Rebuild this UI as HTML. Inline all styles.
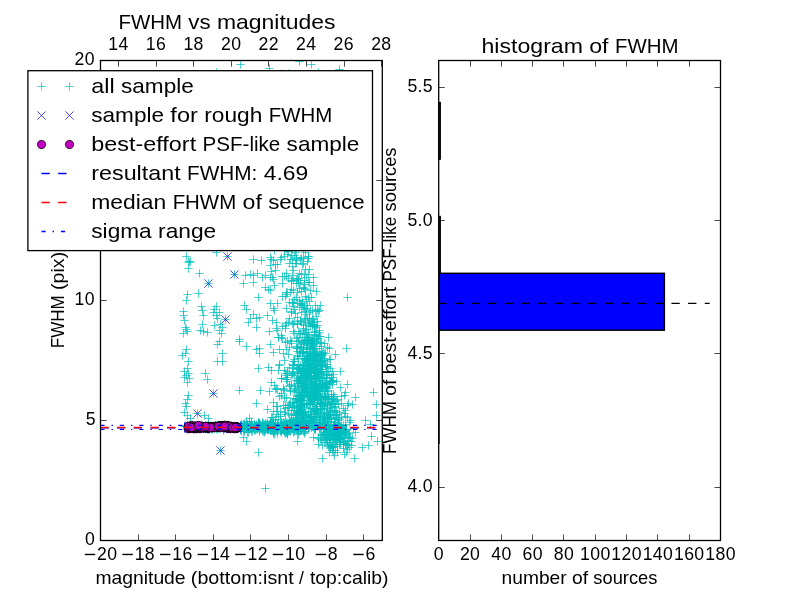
<!DOCTYPE html><html><head><meta charset="utf-8"><title>FWHM vs magnitudes</title><style>html,body{margin:0;padding:0;background:#fff;width:800px;height:600px;overflow:hidden}svg{display:block;will-change:transform}text{font-family:"Liberation Sans",sans-serif;white-space:pre}</style></head><body>
<svg width="800" height="600" viewBox="0 0 800 600">
<rect width="800" height="600" fill="#fff"/>
<defs><clipPath id="c1"><rect x="100" y="60" width="282" height="480"/></clipPath><clipPath id="c2"><rect x="438.2" y="60" width="281.8" height="480"/></clipPath></defs>
<g clip-path="url(#c1)">
<path d="M182.3 256.5h8.3M186.5 252.3v8.3M184.3 261.5h8.3M188.5 257.3v8.3M185.3 262.5h8.3M189.5 258.3v8.3M186.3 261.5h8.3M190.5 257.3v8.3M184.3 268.5h8.3M188.5 264.3v8.3M195.3 273.5h8.3M199.5 269.3v8.3M194.3 293.5h8.3M198.5 289.3v8.3M183.3 294.5h8.3M187.5 290.3v8.3M182.3 300.5h8.3M186.5 296.3v8.3M179.3 311.5h8.3M183.5 307.3v8.3M179.3 315.5h8.3M183.5 311.3v8.3M180.3 320.5h8.3M184.5 316.3v8.3M181.3 327.5h8.3M185.5 323.3v8.3M182.3 329.5h8.3M186.5 325.3v8.3M179.3 333.5h8.3M183.5 329.3v8.3M183.3 331.5h8.3M187.5 327.3v8.3M197.3 306.5h8.3M201.5 302.3v8.3M198.3 310.5h8.3M202.5 306.3v8.3M199.3 315.5h8.3M203.5 311.3v8.3M212.3 306.5h8.3M216.5 302.3v8.3M210.3 309.5h8.3M214.5 305.3v8.3M209.3 312.5h8.3M213.5 308.3v8.3M212.3 315.5h8.3M216.5 311.3v8.3M215.3 312.5h8.3M219.5 308.3v8.3M213.3 318.5h8.3M217.5 314.3v8.3M210.3 325.5h8.3M214.5 321.3v8.3M198.3 324.5h8.3M202.5 320.3v8.3M196.3 330.5h8.3M200.5 326.3v8.3M199.3 331.5h8.3M203.5 327.3v8.3M203.3 332.5h8.3M207.5 328.3v8.3M216.3 324.5h8.3M220.5 320.3v8.3M218.3 327.5h8.3M222.5 323.3v8.3M215.3 330.5h8.3M219.5 326.3v8.3M217.3 333.5h8.3M221.5 329.3v8.3M212.3 252.5h8.3M216.5 248.3v8.3M249.3 259.5h8.3M253.5 255.3v8.3M257.3 260.5h8.3M261.5 256.3v8.3M267.3 259.5h8.3M271.5 255.3v8.3M241.3 275.5h8.3M245.5 271.3v8.3M246.3 274.5h8.3M250.5 270.3v8.3M249.3 275.5h8.3M253.5 271.3v8.3M253.3 273.5h8.3M257.5 269.3v8.3M261.3 275.5h8.3M265.5 271.3v8.3M258.3 277.5h8.3M262.5 273.3v8.3M239.3 283.5h8.3M243.5 279.3v8.3M249.3 282.5h8.3M253.5 278.3v8.3M254.3 297.5h8.3M258.5 293.3v8.3M261.3 287.5h8.3M265.5 283.3v8.3M264.3 289.5h8.3M268.5 285.3v8.3M240.3 305.5h8.3M244.5 301.3v8.3M242.3 309.5h8.3M246.5 305.3v8.3M249.3 314.5h8.3M253.5 310.3v8.3M246.3 318.5h8.3M250.5 314.3v8.3M244.3 322.5h8.3M248.5 318.3v8.3M252.3 318.5h8.3M256.5 314.3v8.3M255.3 317.5h8.3M259.5 313.3v8.3M252.3 327.5h8.3M256.5 323.3v8.3M263.3 315.5h8.3M267.5 311.3v8.3M265.3 331.5h8.3M269.5 327.3v8.3M235.3 339.5h8.3M239.5 335.3v8.3M182.3 349.5h8.3M186.5 345.3v8.3M178.3 355.5h8.3M182.5 351.3v8.3M181.3 353.5h8.3M185.5 349.3v8.3M184.3 361.5h8.3M188.5 357.3v8.3M183.3 368.5h8.3M187.5 364.3v8.3M180.3 371.5h8.3M184.5 367.3v8.3M184.3 373.5h8.3M188.5 369.3v8.3M182.3 375.5h8.3M186.5 371.3v8.3M180.3 377.5h8.3M184.5 373.3v8.3M185.3 378.5h8.3M189.5 374.3v8.3M183.3 382.5h8.3M187.5 378.3v8.3M184.3 395.5h8.3M188.5 391.3v8.3M183.3 399.5h8.3M187.5 395.3v8.3M181.3 403.5h8.3M185.5 399.3v8.3M182.3 406.5h8.3M186.5 402.3v8.3M180.3 412.5h8.3M184.5 408.3v8.3M183.3 415.5h8.3M187.5 411.3v8.3M186.3 418.5h8.3M190.5 414.3v8.3M215.3 341.5h8.3M219.5 337.3v8.3M213.3 344.5h8.3M217.5 340.3v8.3M218.3 353.5h8.3M222.5 349.3v8.3M213.3 361.5h8.3M217.5 357.3v8.3M218.3 361.5h8.3M222.5 357.3v8.3M201.3 373.5h8.3M205.5 369.3v8.3M203.3 379.5h8.3M207.5 375.3v8.3M235.3 341.5h8.3M239.5 337.3v8.3M242.3 346.5h8.3M246.5 342.3v8.3M252.3 349.5h8.3M256.5 345.3v8.3M255.3 348.5h8.3M259.5 344.3v8.3M255.3 353.5h8.3M259.5 349.3v8.3M254.3 368.5h8.3M258.5 364.3v8.3M264.3 367.5h8.3M268.5 363.3v8.3M267.3 370.5h8.3M271.5 366.3v8.3M267.3 382.5h8.3M271.5 378.3v8.3M235.3 390.5h8.3M239.5 386.3v8.3M256.3 390.5h8.3M260.5 386.3v8.3M265.3 391.5h8.3M269.5 387.3v8.3M252.3 403.5h8.3M256.5 399.3v8.3M263.3 409.5h8.3M267.5 405.3v8.3M200.3 415.5h8.3M204.5 411.3v8.3M204.3 418.5h8.3M208.5 414.3v8.3M273.3 411.5h8.3M277.5 407.3v8.3M267.3 417.5h8.3M271.5 413.3v8.3M245.3 418.5h8.3M249.5 414.3v8.3M242.3 421.5h8.3M246.5 417.3v8.3M214.3 428.5h8.3M218.5 424.3v8.3M221.3 426.5h8.3M225.5 422.3v8.3M191.3 426.5h8.3M195.5 422.3v8.3M182.3 426.5h8.3M186.5 422.3v8.3M192.3 426.5h8.3M196.5 422.3v8.3M186.3 426.5h8.3M190.5 422.3v8.3M222.3 427.5h8.3M226.5 423.3v8.3M220.3 427.5h8.3M224.5 423.3v8.3M207.3 428.5h8.3M211.5 424.3v8.3M206.3 427.5h8.3M210.5 423.3v8.3M181.3 425.5h8.3M185.5 421.3v8.3M224.3 428.5h8.3M228.5 424.3v8.3M215.3 426.5h8.3M219.5 422.3v8.3M236.3 425.5h8.3M240.5 421.3v8.3M219.3 427.5h8.3M223.5 423.3v8.3M215.3 427.5h8.3M219.5 423.3v8.3M206.3 426.5h8.3M210.5 422.3v8.3M193.3 426.5h8.3M197.5 422.3v8.3M219.3 428.5h8.3M223.5 424.3v8.3M223.3 427.5h8.3M227.5 423.3v8.3M195.3 427.5h8.3M199.5 423.3v8.3M185.3 427.5h8.3M189.5 423.3v8.3M236.3 426.5h8.3M240.5 422.3v8.3M194.3 427.5h8.3M198.5 423.3v8.3M196.3 427.5h8.3M200.5 423.3v8.3M225.3 428.5h8.3M229.5 424.3v8.3M227.3 427.5h8.3M231.5 423.3v8.3M212.3 429.5h8.3M216.5 425.3v8.3M202.3 427.5h8.3M206.5 423.3v8.3M202.3 427.5h8.3M206.5 423.3v8.3M196.3 426.5h8.3M200.5 422.3v8.3M223.3 426.5h8.3M227.5 422.3v8.3M194.3 426.5h8.3M198.5 422.3v8.3M205.3 429.5h8.3M209.5 425.3v8.3M232.3 427.5h8.3M236.5 423.3v8.3M197.3 427.5h8.3M201.5 423.3v8.3M226.3 428.5h8.3M230.5 424.3v8.3M224.3 425.5h8.3M228.5 421.3v8.3M204.3 426.5h8.3M208.5 422.3v8.3M193.3 427.5h8.3M197.5 423.3v8.3M204.3 424.5h8.3M208.5 420.3v8.3M183.3 429.5h8.3M187.5 425.3v8.3M215.3 428.5h8.3M219.5 424.3v8.3M229.3 426.5h8.3M233.5 422.3v8.3M232.3 427.5h8.3M236.5 423.3v8.3M191.3 427.5h8.3M195.5 423.3v8.3M209.3 428.5h8.3M213.5 424.3v8.3M232.3 428.5h8.3M236.5 424.3v8.3M195.3 427.5h8.3M199.5 423.3v8.3M231.3 429.5h8.3M235.5 425.3v8.3M180.3 426.5h8.3M184.5 422.3v8.3M212.3 427.5h8.3M216.5 423.3v8.3M211.3 427.5h8.3M215.5 423.3v8.3M234.3 427.5h8.3M238.5 423.3v8.3M194.3 428.5h8.3M198.5 424.3v8.3M183.3 427.5h8.3M187.5 423.3v8.3M233.3 428.5h8.3M237.5 424.3v8.3M231.3 428.5h8.3M235.5 424.3v8.3M189.3 428.5h8.3M193.5 424.3v8.3M238.3 427.5h8.3M242.5 423.3v8.3M200.3 428.5h8.3M204.5 424.3v8.3M198.3 426.5h8.3M202.5 422.3v8.3M229.3 429.5h8.3M233.5 425.3v8.3M231.3 427.5h8.3M235.5 423.3v8.3M219.3 428.5h8.3M223.5 424.3v8.3M183.3 425.5h8.3M187.5 421.3v8.3M212.3 425.5h8.3M216.5 421.3v8.3M220.3 426.5h8.3M224.5 422.3v8.3M228.3 428.5h8.3M232.5 424.3v8.3M198.3 427.5h8.3M202.5 423.3v8.3M209.3 426.5h8.3M213.5 422.3v8.3M230.3 427.5h8.3M234.5 423.3v8.3M197.3 424.5h8.3M201.5 420.3v8.3M219.3 430.5h8.3M223.5 426.3v8.3M204.3 429.5h8.3M208.5 425.3v8.3M220.3 427.5h8.3M224.5 423.3v8.3M193.3 427.5h8.3M197.5 423.3v8.3M212.3 427.5h8.3M216.5 423.3v8.3M230.3 427.5h8.3M234.5 423.3v8.3M223.3 427.5h8.3M227.5 423.3v8.3M209.3 427.5h8.3M213.5 423.3v8.3M202.3 428.5h8.3M206.5 424.3v8.3M226.3 427.5h8.3M230.5 423.3v8.3M189.3 427.5h8.3M193.5 423.3v8.3M214.3 426.5h8.3M218.5 422.3v8.3M205.3 428.5h8.3M209.5 424.3v8.3M183.3 427.5h8.3M187.5 423.3v8.3M197.3 427.5h8.3M201.5 423.3v8.3M223.3 426.5h8.3M227.5 422.3v8.3M197.3 426.5h8.3M201.5 422.3v8.3M203.3 427.5h8.3M207.5 423.3v8.3M217.3 427.5h8.3M221.5 423.3v8.3M229.3 427.5h8.3M233.5 423.3v8.3M198.3 427.5h8.3M202.5 423.3v8.3M189.3 427.5h8.3M193.5 423.3v8.3M221.3 427.5h8.3M225.5 423.3v8.3M231.3 427.5h8.3M235.5 423.3v8.3M214.3 428.5h8.3M218.5 424.3v8.3M220.3 427.5h8.3M224.5 423.3v8.3M190.3 429.5h8.3M194.5 425.3v8.3M211.3 428.5h8.3M215.5 424.3v8.3M231.3 426.5h8.3M235.5 422.3v8.3M229.3 426.5h8.3M233.5 422.3v8.3M237.3 429.5h8.3M241.5 425.3v8.3M226.3 426.5h8.3M230.5 422.3v8.3M191.3 425.5h8.3M195.5 421.3v8.3M216.3 428.5h8.3M220.5 424.3v8.3M208.3 429.5h8.3M212.5 425.3v8.3M216.3 427.5h8.3M220.5 423.3v8.3M188.3 427.5h8.3M192.5 423.3v8.3M237.3 431.5h8.3M241.5 427.3v8.3M242.3 426.5h8.3M246.5 422.3v8.3M291.3 423.5h8.3M295.5 419.3v8.3M259.3 423.5h8.3M263.5 419.3v8.3M267.3 423.5h8.3M271.5 419.3v8.3M269.3 430.5h8.3M273.5 426.3v8.3M247.3 428.5h8.3M251.5 424.3v8.3M280.3 432.5h8.3M284.5 428.3v8.3M256.3 425.5h8.3M260.5 421.3v8.3M279.3 422.5h8.3M283.5 418.3v8.3M252.3 424.5h8.3M256.5 420.3v8.3M296.3 430.5h8.3M300.5 426.3v8.3M252.3 425.5h8.3M256.5 421.3v8.3M260.3 425.5h8.3M264.5 421.3v8.3M262.3 424.5h8.3M266.5 420.3v8.3M250.3 428.5h8.3M254.5 424.3v8.3M280.3 430.5h8.3M284.5 426.3v8.3M264.3 427.5h8.3M268.5 423.3v8.3M297.3 421.5h8.3M301.5 417.3v8.3M261.3 424.5h8.3M265.5 420.3v8.3M255.3 430.5h8.3M259.5 426.3v8.3M254.3 428.5h8.3M258.5 424.3v8.3M279.3 425.5h8.3M283.5 421.3v8.3M243.3 424.5h8.3M247.5 420.3v8.3M246.3 427.5h8.3M250.5 423.3v8.3M255.3 431.5h8.3M259.5 427.3v8.3M255.3 425.5h8.3M259.5 421.3v8.3M237.3 426.5h8.3M241.5 422.3v8.3M243.3 427.5h8.3M247.5 423.3v8.3M282.3 422.5h8.3M286.5 418.3v8.3M251.3 430.5h8.3M255.5 426.3v8.3M260.3 430.5h8.3M264.5 426.3v8.3M247.3 421.5h8.3M251.5 417.3v8.3M253.3 428.5h8.3M257.5 424.3v8.3M276.3 419.5h8.3M280.5 415.3v8.3M244.3 428.5h8.3M248.5 424.3v8.3M286.3 431.5h8.3M290.5 427.3v8.3M243.3 428.5h8.3M247.5 424.3v8.3M279.3 426.5h8.3M283.5 422.3v8.3M282.3 432.5h8.3M286.5 428.3v8.3M269.3 426.5h8.3M273.5 422.3v8.3M254.3 424.5h8.3M258.5 420.3v8.3M263.3 427.5h8.3M267.5 423.3v8.3M241.3 425.5h8.3M245.5 421.3v8.3M276.3 425.5h8.3M280.5 421.3v8.3M293.3 441.5h8.3M297.5 437.3v8.3M238.3 427.5h8.3M242.5 423.3v8.3M285.3 420.5h8.3M289.5 416.3v8.3M299.3 428.5h8.3M303.5 424.3v8.3M288.3 422.5h8.3M292.5 418.3v8.3M244.3 432.5h8.3M248.5 428.3v8.3M247.3 423.5h8.3M251.5 419.3v8.3M249.3 428.5h8.3M253.5 424.3v8.3M269.3 429.5h8.3M273.5 425.3v8.3M292.3 429.5h8.3M296.5 425.3v8.3M265.3 427.5h8.3M269.5 423.3v8.3M240.3 423.5h8.3M244.5 419.3v8.3M288.3 428.5h8.3M292.5 424.3v8.3M268.3 427.5h8.3M272.5 423.3v8.3M240.3 431.5h8.3M244.5 427.3v8.3M276.3 431.5h8.3M280.5 427.3v8.3M273.3 428.5h8.3M277.5 424.3v8.3M267.3 430.5h8.3M271.5 426.3v8.3M258.3 423.5h8.3M262.5 419.3v8.3M255.3 426.5h8.3M259.5 422.3v8.3M250.3 430.5h8.3M254.5 426.3v8.3M269.3 431.5h8.3M273.5 427.3v8.3M290.3 431.5h8.3M294.5 427.3v8.3M242.3 426.5h8.3M246.5 422.3v8.3M289.3 427.5h8.3M293.5 423.3v8.3M242.3 426.5h8.3M246.5 422.3v8.3M266.3 421.5h8.3M270.5 417.3v8.3M242.3 427.5h8.3M246.5 423.3v8.3M294.3 428.5h8.3M298.5 424.3v8.3M289.3 428.5h8.3M293.5 424.3v8.3M294.3 426.5h8.3M298.5 422.3v8.3M250.3 426.5h8.3M254.5 422.3v8.3M236.3 425.5h8.3M240.5 421.3v8.3M259.3 425.5h8.3M263.5 421.3v8.3M286.3 424.5h8.3M290.5 420.3v8.3M294.3 422.5h8.3M298.5 418.3v8.3M251.3 429.5h8.3M255.5 425.3v8.3M282.3 432.5h8.3M286.5 428.3v8.3M240.3 429.5h8.3M244.5 425.3v8.3M244.3 427.5h8.3M248.5 423.3v8.3M247.3 424.5h8.3M251.5 420.3v8.3M264.3 425.5h8.3M268.5 421.3v8.3M247.3 427.5h8.3M251.5 423.3v8.3M267.3 426.5h8.3M271.5 422.3v8.3M276.3 426.5h8.3M280.5 422.3v8.3M292.3 425.5h8.3M296.5 421.3v8.3M236.3 428.5h8.3M240.5 424.3v8.3M278.3 429.5h8.3M282.5 425.3v8.3M239.3 426.5h8.3M243.5 422.3v8.3M243.3 432.5h8.3M247.5 428.3v8.3M270.3 430.5h8.3M274.5 426.3v8.3M249.3 428.5h8.3M253.5 424.3v8.3M252.3 429.5h8.3M256.5 425.3v8.3M250.3 424.5h8.3M254.5 420.3v8.3M268.3 428.5h8.3M272.5 424.3v8.3M245.3 427.5h8.3M249.5 423.3v8.3M288.3 426.5h8.3M292.5 422.3v8.3M239.3 428.5h8.3M243.5 424.3v8.3M283.3 427.5h8.3M287.5 423.3v8.3M248.3 431.5h8.3M252.5 427.3v8.3M269.3 432.5h8.3M273.5 428.3v8.3M277.3 432.5h8.3M281.5 428.3v8.3M295.3 425.5h8.3M299.5 421.3v8.3M255.3 430.5h8.3M259.5 426.3v8.3M252.3 427.5h8.3M256.5 423.3v8.3M277.3 430.5h8.3M281.5 426.3v8.3M301.3 425.5h8.3M305.5 421.3v8.3M294.3 434.5h8.3M298.5 430.3v8.3M240.3 429.5h8.3M244.5 425.3v8.3M267.3 425.5h8.3M271.5 421.3v8.3M260.3 430.5h8.3M264.5 426.3v8.3M294.3 425.5h8.3M298.5 421.3v8.3M251.3 426.5h8.3M255.5 422.3v8.3M301.3 431.5h8.3M305.5 427.3v8.3M260.3 424.5h8.3M264.5 420.3v8.3M268.3 425.5h8.3M272.5 421.3v8.3M268.3 427.5h8.3M272.5 423.3v8.3M236.3 427.5h8.3M240.5 423.3v8.3M260.3 432.5h8.3M264.5 428.3v8.3M284.3 427.5h8.3M288.5 423.3v8.3M284.3 431.5h8.3M288.5 427.3v8.3M250.3 424.5h8.3M254.5 420.3v8.3M270.3 426.5h8.3M274.5 422.3v8.3M282.3 431.5h8.3M286.5 427.3v8.3M267.3 423.5h8.3M271.5 419.3v8.3M240.3 428.5h8.3M244.5 424.3v8.3M282.3 424.5h8.3M286.5 420.3v8.3M254.3 423.5h8.3M258.5 419.3v8.3M263.3 423.5h8.3M267.5 419.3v8.3M276.3 428.5h8.3M280.5 424.3v8.3M269.3 422.5h8.3M273.5 418.3v8.3M280.3 425.5h8.3M284.5 421.3v8.3M300.3 433.5h8.3M304.5 429.3v8.3M257.3 429.5h8.3M261.5 425.3v8.3M243.3 428.5h8.3M247.5 424.3v8.3M252.3 426.5h8.3M256.5 422.3v8.3M274.3 427.5h8.3M278.5 423.3v8.3M269.3 430.5h8.3M273.5 426.3v8.3M298.3 423.5h8.3M302.5 419.3v8.3M269.3 433.5h8.3M273.5 429.3v8.3M247.3 428.5h8.3M251.5 424.3v8.3M253.3 426.5h8.3M257.5 422.3v8.3M298.3 423.5h8.3M302.5 419.3v8.3M265.3 429.5h8.3M269.5 425.3v8.3M282.3 427.5h8.3M286.5 423.3v8.3M276.3 425.5h8.3M280.5 421.3v8.3M254.3 423.5h8.3M258.5 419.3v8.3M283.3 433.5h8.3M287.5 429.3v8.3M255.3 430.5h8.3M259.5 426.3v8.3M289.3 428.5h8.3M293.5 424.3v8.3M263.3 424.5h8.3M267.5 420.3v8.3M241.3 428.5h8.3M245.5 424.3v8.3M263.3 429.5h8.3M267.5 425.3v8.3M248.3 426.5h8.3M252.5 422.3v8.3M293.3 429.5h8.3M297.5 425.3v8.3M266.3 428.5h8.3M270.5 424.3v8.3M245.3 429.5h8.3M249.5 425.3v8.3M259.3 429.5h8.3M263.5 425.3v8.3M261.3 423.5h8.3M265.5 419.3v8.3M278.3 425.5h8.3M282.5 421.3v8.3M300.3 422.5h8.3M304.5 418.3v8.3M261.3 429.5h8.3M265.5 425.3v8.3M280.3 423.5h8.3M284.5 419.3v8.3M290.3 424.5h8.3M294.5 420.3v8.3M298.3 426.5h8.3M302.5 422.3v8.3M243.3 425.5h8.3M247.5 421.3v8.3M268.3 425.5h8.3M272.5 421.3v8.3M247.3 431.5h8.3M251.5 427.3v8.3M240.3 425.5h8.3M244.5 421.3v8.3M284.3 428.5h8.3M288.5 424.3v8.3M286.3 426.5h8.3M290.5 422.3v8.3M281.3 433.5h8.3M285.5 429.3v8.3M270.3 431.5h8.3M274.5 427.3v8.3M300.3 432.5h8.3M304.5 428.3v8.3M256.3 424.5h8.3M260.5 420.3v8.3M262.3 426.5h8.3M266.5 422.3v8.3M286.3 425.5h8.3M290.5 421.3v8.3M255.3 422.5h8.3M259.5 418.3v8.3M294.3 430.5h8.3M298.5 426.3v8.3M244.3 427.5h8.3M248.5 423.3v8.3M270.3 429.5h8.3M274.5 425.3v8.3M285.3 429.5h8.3M289.5 425.3v8.3M268.3 426.5h8.3M272.5 422.3v8.3M255.3 423.5h8.3M259.5 419.3v8.3M262.3 426.5h8.3M266.5 422.3v8.3M262.3 427.5h8.3M266.5 423.3v8.3M237.3 424.5h8.3M241.5 420.3v8.3M239.3 424.5h8.3M243.5 420.3v8.3M273.3 433.5h8.3M277.5 429.3v8.3M282.3 432.5h8.3M286.5 428.3v8.3M264.3 427.5h8.3M268.5 423.3v8.3M270.3 434.5h8.3M274.5 430.3v8.3M299.3 431.5h8.3M303.5 427.3v8.3M255.3 426.5h8.3M259.5 422.3v8.3M266.3 426.5h8.3M270.5 422.3v8.3M265.3 427.5h8.3M269.5 423.3v8.3M279.3 427.5h8.3M283.5 423.3v8.3M283.3 434.5h8.3M287.5 430.3v8.3M265.3 426.5h8.3M269.5 422.3v8.3M283.3 427.5h8.3M287.5 423.3v8.3M291.3 423.5h8.3M295.5 419.3v8.3M272.3 429.5h8.3M276.5 425.3v8.3M251.3 427.5h8.3M255.5 423.3v8.3M277.3 430.5h8.3M281.5 426.3v8.3M266.3 422.5h8.3M270.5 418.3v8.3M296.3 422.5h8.3M300.5 418.3v8.3M273.3 426.5h8.3M277.5 422.3v8.3M289.3 421.5h8.3M293.5 417.3v8.3M269.3 420.5h8.3M273.5 416.3v8.3M247.3 424.5h8.3M251.5 420.3v8.3M273.3 430.5h8.3M277.5 426.3v8.3M269.3 427.5h8.3M273.5 423.3v8.3M259.3 431.5h8.3M263.5 427.3v8.3M237.3 424.5h8.3M241.5 420.3v8.3M284.3 430.5h8.3M288.5 426.3v8.3M300.3 427.5h8.3M304.5 423.3v8.3M295.3 425.5h8.3M299.5 421.3v8.3M277.3 422.5h8.3M281.5 418.3v8.3M265.3 425.5h8.3M269.5 421.3v8.3M272.3 428.5h8.3M276.5 424.3v8.3M293.3 429.5h8.3M297.5 425.3v8.3M258.3 431.5h8.3M262.5 427.3v8.3M287.3 424.5h8.3M291.5 420.3v8.3M268.3 429.5h8.3M272.5 425.3v8.3M264.3 429.5h8.3M268.5 425.3v8.3M256.3 428.5h8.3M260.5 424.3v8.3M271.3 424.5h8.3M275.5 420.3v8.3M297.3 429.5h8.3M301.5 425.3v8.3M264.3 428.5h8.3M268.5 424.3v8.3M242.3 425.5h8.3M246.5 421.3v8.3M243.3 424.5h8.3M247.5 420.3v8.3M271.3 428.5h8.3M275.5 424.3v8.3M246.3 426.5h8.3M250.5 422.3v8.3M260.3 430.5h8.3M264.5 426.3v8.3M296.3 426.5h8.3M300.5 422.3v8.3M265.3 424.5h8.3M269.5 420.3v8.3M276.3 425.5h8.3M280.5 421.3v8.3M236.3 430.5h8.3M240.5 426.3v8.3M290.3 424.5h8.3M294.5 420.3v8.3M254.3 422.5h8.3M258.5 418.3v8.3M297.3 424.5h8.3M301.5 420.3v8.3M246.3 427.5h8.3M250.5 423.3v8.3M290.3 428.5h8.3M294.5 424.3v8.3M284.3 429.5h8.3M288.5 425.3v8.3M286.3 424.5h8.3M290.5 420.3v8.3M260.3 427.5h8.3M264.5 423.3v8.3M255.3 430.5h8.3M259.5 426.3v8.3M273.3 429.5h8.3M277.5 425.3v8.3M245.3 424.5h8.3M249.5 420.3v8.3M291.3 418.5h8.3M295.5 414.3v8.3M276.3 425.5h8.3M280.5 421.3v8.3M280.3 423.5h8.3M284.5 419.3v8.3M289.3 432.5h8.3M293.5 428.3v8.3M294.3 430.5h8.3M298.5 426.3v8.3M286.3 426.5h8.3M290.5 422.3v8.3M258.3 422.5h8.3M262.5 418.3v8.3M278.3 424.5h8.3M282.5 420.3v8.3M251.3 426.5h8.3M255.5 422.3v8.3M262.3 428.5h8.3M266.5 424.3v8.3M269.3 431.5h8.3M273.5 427.3v8.3M271.3 425.5h8.3M275.5 421.3v8.3M256.3 426.5h8.3M260.5 422.3v8.3M265.3 426.5h8.3M269.5 422.3v8.3M261.3 430.5h8.3M265.5 426.3v8.3M248.3 427.5h8.3M252.5 423.3v8.3M238.3 426.5h8.3M242.5 422.3v8.3M248.3 425.5h8.3M252.5 421.3v8.3M277.3 425.5h8.3M281.5 421.3v8.3M276.3 430.5h8.3M280.5 426.3v8.3M266.3 430.5h8.3M270.5 426.3v8.3M290.3 428.5h8.3M294.5 424.3v8.3M239.3 429.5h8.3M243.5 425.3v8.3M245.3 422.5h8.3M249.5 418.3v8.3M253.3 429.5h8.3M257.5 425.3v8.3M300.3 427.5h8.3M304.5 423.3v8.3M242.3 425.5h8.3M246.5 421.3v8.3M290.3 425.5h8.3M294.5 421.3v8.3M295.3 431.5h8.3M299.5 427.3v8.3M297.3 428.5h8.3M301.5 424.3v8.3M279.3 428.5h8.3M283.5 424.3v8.3M263.3 430.5h8.3M267.5 426.3v8.3M299.3 425.5h8.3M303.5 421.3v8.3M286.3 425.5h8.3M290.5 421.3v8.3M268.3 423.5h8.3M272.5 419.3v8.3M298.3 411.5h8.3M302.5 407.3v8.3M293.3 433.5h8.3M297.5 429.3v8.3M260.3 427.5h8.3M264.5 423.3v8.3M252.3 427.5h8.3M256.5 423.3v8.3M250.3 428.5h8.3M254.5 424.3v8.3M286.3 427.5h8.3M290.5 423.3v8.3M264.3 429.5h8.3M268.5 425.3v8.3M297.3 430.5h8.3M301.5 426.3v8.3M270.3 427.5h8.3M274.5 423.3v8.3M247.3 427.5h8.3M251.5 423.3v8.3M297.3 426.5h8.3M301.5 422.3v8.3M303.3 305.5h8.3M307.5 301.3v8.3M305.3 417.5h8.3M309.5 413.3v8.3M310.3 334.5h8.3M314.5 330.3v8.3M310.3 335.5h8.3M314.5 331.3v8.3M298.3 364.5h8.3M302.5 360.3v8.3M295.3 307.5h8.3M299.5 303.3v8.3M324.3 424.5h8.3M328.5 420.3v8.3M323.3 347.5h8.3M327.5 343.3v8.3M307.3 385.5h8.3M311.5 381.3v8.3M323.3 404.5h8.3M327.5 400.3v8.3M316.3 417.5h8.3M320.5 413.3v8.3M305.3 364.5h8.3M309.5 360.3v8.3M341.3 410.5h8.3M345.5 406.3v8.3M308.3 421.5h8.3M312.5 417.3v8.3M320.3 388.5h8.3M324.5 384.3v8.3M311.3 425.5h8.3M315.5 421.3v8.3M322.3 397.5h8.3M326.5 393.3v8.3M325.3 383.5h8.3M329.5 379.3v8.3M301.3 381.5h8.3M305.5 377.3v8.3M324.3 390.5h8.3M328.5 386.3v8.3M305.3 423.5h8.3M309.5 419.3v8.3M288.3 374.5h8.3M292.5 370.3v8.3M315.3 395.5h8.3M319.5 391.3v8.3M309.3 319.5h8.3M313.5 315.3v8.3M302.3 391.5h8.3M306.5 387.3v8.3M307.3 390.5h8.3M311.5 386.3v8.3M291.3 252.5h8.3M295.5 248.3v8.3M326.3 411.5h8.3M330.5 407.3v8.3M316.3 413.5h8.3M320.5 409.3v8.3M303.3 371.5h8.3M307.5 367.3v8.3M297.3 312.5h8.3M301.5 308.3v8.3M332.3 411.5h8.3M336.5 407.3v8.3M309.3 378.5h8.3M313.5 374.3v8.3M326.3 359.5h8.3M330.5 355.3v8.3M296.3 303.5h8.3M300.5 299.3v8.3M316.3 403.5h8.3M320.5 399.3v8.3M325.3 408.5h8.3M329.5 404.3v8.3M328.3 380.5h8.3M332.5 376.3v8.3M311.3 372.5h8.3M315.5 368.3v8.3M311.3 397.5h8.3M315.5 393.3v8.3M293.3 348.5h8.3M297.5 344.3v8.3M318.3 354.5h8.3M322.5 350.3v8.3M303.3 318.5h8.3M307.5 314.3v8.3M288.3 368.5h8.3M292.5 364.3v8.3M310.3 377.5h8.3M314.5 373.3v8.3M303.3 378.5h8.3M307.5 374.3v8.3M306.3 399.5h8.3M310.5 395.3v8.3M320.3 343.5h8.3M324.5 339.3v8.3M313.3 389.5h8.3M317.5 385.3v8.3M311.3 385.5h8.3M315.5 381.3v8.3M302.3 334.5h8.3M306.5 330.3v8.3M292.3 417.5h8.3M296.5 413.3v8.3M307.3 344.5h8.3M311.5 340.3v8.3M311.3 391.5h8.3M315.5 387.3v8.3M298.3 412.5h8.3M302.5 408.3v8.3M297.3 398.5h8.3M301.5 394.3v8.3M298.3 264.5h8.3M302.5 260.3v8.3M327.3 396.5h8.3M331.5 392.3v8.3M315.3 389.5h8.3M319.5 385.3v8.3M315.3 422.5h8.3M319.5 418.3v8.3M325.3 417.5h8.3M329.5 413.3v8.3M306.3 354.5h8.3M310.5 350.3v8.3M317.3 378.5h8.3M321.5 374.3v8.3M309.3 418.5h8.3M313.5 414.3v8.3M286.3 292.5h8.3M290.5 288.3v8.3M311.3 368.5h8.3M315.5 364.3v8.3M326.3 415.5h8.3M330.5 411.3v8.3M307.3 341.5h8.3M311.5 337.3v8.3M315.3 378.5h8.3M319.5 374.3v8.3M306.3 340.5h8.3M310.5 336.3v8.3M294.3 387.5h8.3M298.5 383.3v8.3M307.3 297.5h8.3M311.5 293.3v8.3M319.3 385.5h8.3M323.5 381.3v8.3M329.3 403.5h8.3M333.5 399.3v8.3M316.3 372.5h8.3M320.5 368.3v8.3M324.3 419.5h8.3M328.5 415.3v8.3M279.3 388.5h8.3M283.5 384.3v8.3M296.3 351.5h8.3M300.5 347.3v8.3M312.3 397.5h8.3M316.5 393.3v8.3M310.3 355.5h8.3M314.5 351.3v8.3M316.3 354.5h8.3M320.5 350.3v8.3M301.3 360.5h8.3M305.5 356.3v8.3M282.3 292.5h8.3M286.5 288.3v8.3M296.3 377.5h8.3M300.5 373.3v8.3M341.3 424.5h8.3M345.5 420.3v8.3M306.3 387.5h8.3M310.5 383.3v8.3M321.3 429.5h8.3M325.5 425.3v8.3M306.3 414.5h8.3M310.5 410.3v8.3M314.3 373.5h8.3M318.5 369.3v8.3M323.3 412.5h8.3M327.5 408.3v8.3M337.3 426.5h8.3M341.5 422.3v8.3M296.3 410.5h8.3M300.5 406.3v8.3M290.3 406.5h8.3M294.5 402.3v8.3M296.3 321.5h8.3M300.5 317.3v8.3M299.3 386.5h8.3M303.5 382.3v8.3M285.3 302.5h8.3M289.5 298.3v8.3M315.3 424.5h8.3M319.5 420.3v8.3M302.3 374.5h8.3M306.5 370.3v8.3M306.3 356.5h8.3M310.5 352.3v8.3M281.3 408.5h8.3M285.5 404.3v8.3M287.3 311.5h8.3M291.5 307.3v8.3M315.3 428.5h8.3M319.5 424.3v8.3M316.3 358.5h8.3M320.5 354.3v8.3M290.3 299.5h8.3M294.5 295.3v8.3M307.3 427.5h8.3M311.5 423.3v8.3M317.3 346.5h8.3M321.5 342.3v8.3M287.3 375.5h8.3M291.5 371.3v8.3M298.3 396.5h8.3M302.5 392.3v8.3M310.3 400.5h8.3M314.5 396.3v8.3M284.3 413.5h8.3M288.5 409.3v8.3M301.3 392.5h8.3M305.5 388.3v8.3M290.3 391.5h8.3M294.5 387.3v8.3M299.3 365.5h8.3M303.5 361.3v8.3M329.3 426.5h8.3M333.5 422.3v8.3M309.3 371.5h8.3M313.5 367.3v8.3M340.3 395.5h8.3M344.5 391.3v8.3M306.3 375.5h8.3M310.5 371.3v8.3M337.3 417.5h8.3M341.5 413.3v8.3M322.3 371.5h8.3M326.5 367.3v8.3M321.3 419.5h8.3M325.5 415.3v8.3M329.3 394.5h8.3M333.5 390.3v8.3M312.3 376.5h8.3M316.5 372.3v8.3M291.3 398.5h8.3M295.5 394.3v8.3M313.3 374.5h8.3M317.5 370.3v8.3M288.3 303.5h8.3M292.5 299.3v8.3M314.3 338.5h8.3M318.5 334.3v8.3M297.3 420.5h8.3M301.5 416.3v8.3M323.3 414.5h8.3M327.5 410.3v8.3M294.3 278.5h8.3M298.5 274.3v8.3M301.3 332.5h8.3M305.5 328.3v8.3M300.3 421.5h8.3M304.5 417.3v8.3M314.3 374.5h8.3M318.5 370.3v8.3M307.3 376.5h8.3M311.5 372.3v8.3M343.3 417.5h8.3M347.5 413.3v8.3M293.3 401.5h8.3M297.5 397.3v8.3M306.3 326.5h8.3M310.5 322.3v8.3M293.3 402.5h8.3M297.5 398.3v8.3M304.3 390.5h8.3M308.5 386.3v8.3M334.3 418.5h8.3M338.5 414.3v8.3M281.3 342.5h8.3M285.5 338.3v8.3M325.3 426.5h8.3M329.5 422.3v8.3M326.3 404.5h8.3M330.5 400.3v8.3M305.3 425.5h8.3M309.5 421.3v8.3M297.3 371.5h8.3M301.5 367.3v8.3M289.3 306.5h8.3M293.5 302.3v8.3M299.3 397.5h8.3M303.5 393.3v8.3M309.3 427.5h8.3M313.5 423.3v8.3M293.3 373.5h8.3M297.5 369.3v8.3M312.3 384.5h8.3M316.5 380.3v8.3M306.3 355.5h8.3M310.5 351.3v8.3M320.3 396.5h8.3M324.5 392.3v8.3M308.3 343.5h8.3M312.5 339.3v8.3M302.3 417.5h8.3M306.5 413.3v8.3M300.3 372.5h8.3M304.5 368.3v8.3M306.3 422.5h8.3M310.5 418.3v8.3M330.3 422.5h8.3M334.5 418.3v8.3M329.3 425.5h8.3M333.5 421.3v8.3M313.3 393.5h8.3M317.5 389.3v8.3M310.3 425.5h8.3M314.5 421.3v8.3M301.3 368.5h8.3M305.5 364.3v8.3M299.3 349.5h8.3M303.5 345.3v8.3M324.3 429.5h8.3M328.5 425.3v8.3M309.3 277.5h8.3M313.5 273.3v8.3M303.3 337.5h8.3M307.5 333.3v8.3M294.3 395.5h8.3M298.5 391.3v8.3M321.3 391.5h8.3M325.5 387.3v8.3M306.3 367.5h8.3M310.5 363.3v8.3M310.3 393.5h8.3M314.5 389.3v8.3M297.3 421.5h8.3M301.5 417.3v8.3M318.3 387.5h8.3M322.5 383.3v8.3M312.3 419.5h8.3M316.5 415.3v8.3M312.3 343.5h8.3M316.5 339.3v8.3M295.3 369.5h8.3M299.5 365.3v8.3M307.3 343.5h8.3M311.5 339.3v8.3M310.3 325.5h8.3M314.5 321.3v8.3M306.3 416.5h8.3M310.5 412.3v8.3M322.3 367.5h8.3M326.5 363.3v8.3M324.3 414.5h8.3M328.5 410.3v8.3M307.3 416.5h8.3M311.5 412.3v8.3M331.3 414.5h8.3M335.5 410.3v8.3M330.3 406.5h8.3M334.5 402.3v8.3M323.3 388.5h8.3M327.5 384.3v8.3M285.3 420.5h8.3M289.5 416.3v8.3M282.3 429.5h8.3M286.5 425.3v8.3M298.3 415.5h8.3M302.5 411.3v8.3M292.3 348.5h8.3M296.5 344.3v8.3M317.3 427.5h8.3M321.5 423.3v8.3M295.3 412.5h8.3M299.5 408.3v8.3M311.3 388.5h8.3M315.5 384.3v8.3M316.3 420.5h8.3M320.5 416.3v8.3M292.3 257.5h8.3M296.5 253.3v8.3M286.3 421.5h8.3M290.5 417.3v8.3M301.3 311.5h8.3M305.5 307.3v8.3M316.3 424.5h8.3M320.5 420.3v8.3M305.3 375.5h8.3M309.5 371.3v8.3M290.3 410.5h8.3M294.5 406.3v8.3M305.3 368.5h8.3M309.5 364.3v8.3M295.3 400.5h8.3M299.5 396.3v8.3M313.3 374.5h8.3M317.5 370.3v8.3M312.3 341.5h8.3M316.5 337.3v8.3M280.3 360.5h8.3M284.5 356.3v8.3M271.3 264.5h8.3M275.5 260.3v8.3M304.3 414.5h8.3M308.5 410.3v8.3M312.3 388.5h8.3M316.5 384.3v8.3M316.3 410.5h8.3M320.5 406.3v8.3M311.3 383.5h8.3M315.5 379.3v8.3M310.3 413.5h8.3M314.5 409.3v8.3M306.3 393.5h8.3M310.5 389.3v8.3M323.3 364.5h8.3M327.5 360.3v8.3M304.3 258.5h8.3M308.5 254.3v8.3M310.3 352.5h8.3M314.5 348.3v8.3M293.3 324.5h8.3M297.5 320.3v8.3M288.3 323.5h8.3M292.5 319.3v8.3M320.3 391.5h8.3M324.5 387.3v8.3M312.3 406.5h8.3M316.5 402.3v8.3M300.3 319.5h8.3M304.5 315.3v8.3M295.3 400.5h8.3M299.5 396.3v8.3M304.3 359.5h8.3M308.5 355.3v8.3M302.3 353.5h8.3M306.5 349.3v8.3M300.3 395.5h8.3M304.5 391.3v8.3M313.3 353.5h8.3M317.5 349.3v8.3M345.3 422.5h8.3M349.5 418.3v8.3M299.3 400.5h8.3M303.5 396.3v8.3M320.3 386.5h8.3M324.5 382.3v8.3M296.3 259.5h8.3M300.5 255.3v8.3M333.3 399.5h8.3M337.5 395.3v8.3M304.3 376.5h8.3M308.5 372.3v8.3M306.3 310.5h8.3M310.5 306.3v8.3M299.3 366.5h8.3M303.5 362.3v8.3M289.3 361.5h8.3M293.5 357.3v8.3M311.3 414.5h8.3M315.5 410.3v8.3M332.3 400.5h8.3M336.5 396.3v8.3M309.3 346.5h8.3M313.5 342.3v8.3M313.3 404.5h8.3M317.5 400.3v8.3M306.3 342.5h8.3M310.5 338.3v8.3M323.3 413.5h8.3M327.5 409.3v8.3M300.3 411.5h8.3M304.5 407.3v8.3M300.3 385.5h8.3M304.5 381.3v8.3M302.3 403.5h8.3M306.5 399.3v8.3M305.3 427.5h8.3M309.5 423.3v8.3M282.3 248.5h8.3M286.5 244.3v8.3M315.3 422.5h8.3M319.5 418.3v8.3M306.3 408.5h8.3M310.5 404.3v8.3M326.3 381.5h8.3M330.5 377.3v8.3M334.3 420.5h8.3M338.5 416.3v8.3M293.3 385.5h8.3M297.5 381.3v8.3M311.3 412.5h8.3M315.5 408.3v8.3M305.3 362.5h8.3M309.5 358.3v8.3M307.3 368.5h8.3M311.5 364.3v8.3M329.3 415.5h8.3M333.5 411.3v8.3M310.3 325.5h8.3M314.5 321.3v8.3M302.3 371.5h8.3M306.5 367.3v8.3M300.3 407.5h8.3M304.5 403.3v8.3M292.3 297.5h8.3M296.5 293.3v8.3M297.3 394.5h8.3M301.5 390.3v8.3M301.3 289.5h8.3M305.5 285.3v8.3M287.3 419.5h8.3M291.5 415.3v8.3M305.3 378.5h8.3M309.5 374.3v8.3M309.3 396.5h8.3M313.5 392.3v8.3M312.3 327.5h8.3M316.5 323.3v8.3M320.3 377.5h8.3M324.5 373.3v8.3M290.3 365.5h8.3M294.5 361.3v8.3M306.3 398.5h8.3M310.5 394.3v8.3M296.3 429.5h8.3M300.5 425.3v8.3M323.3 383.5h8.3M327.5 379.3v8.3M313.3 400.5h8.3M317.5 396.3v8.3M289.3 280.5h8.3M293.5 276.3v8.3M316.3 399.5h8.3M320.5 395.3v8.3M297.3 394.5h8.3M301.5 390.3v8.3M309.3 399.5h8.3M313.5 395.3v8.3M312.3 383.5h8.3M316.5 379.3v8.3M312.3 410.5h8.3M316.5 406.3v8.3M328.3 412.5h8.3M332.5 408.3v8.3M298.3 369.5h8.3M302.5 365.3v8.3M309.3 363.5h8.3M313.5 359.3v8.3M299.3 368.5h8.3M303.5 364.3v8.3M308.3 400.5h8.3M312.5 396.3v8.3M297.3 387.5h8.3M301.5 383.3v8.3M319.3 383.5h8.3M323.5 379.3v8.3M300.3 284.5h8.3M304.5 280.3v8.3M283.3 381.5h8.3M287.5 377.3v8.3M289.3 331.5h8.3M293.5 327.3v8.3M324.3 337.5h8.3M328.5 333.3v8.3M293.3 427.5h8.3M297.5 423.3v8.3M310.3 427.5h8.3M314.5 423.3v8.3M300.3 426.5h8.3M304.5 422.3v8.3M316.3 404.5h8.3M320.5 400.3v8.3M292.3 346.5h8.3M296.5 342.3v8.3M320.3 402.5h8.3M324.5 398.3v8.3M292.3 279.5h8.3M296.5 275.3v8.3M305.3 318.5h8.3M309.5 314.3v8.3M319.3 352.5h8.3M323.5 348.3v8.3M307.3 376.5h8.3M311.5 372.3v8.3M289.3 398.5h8.3M293.5 394.3v8.3M296.3 373.5h8.3M300.5 369.3v8.3M305.3 322.5h8.3M309.5 318.3v8.3M306.3 391.5h8.3M310.5 387.3v8.3M298.3 385.5h8.3M302.5 381.3v8.3M314.3 336.5h8.3M318.5 332.3v8.3M286.3 390.5h8.3M290.5 386.3v8.3M325.3 348.5h8.3M329.5 344.3v8.3M291.3 313.5h8.3M295.5 309.3v8.3M318.3 386.5h8.3M322.5 382.3v8.3M325.3 399.5h8.3M329.5 395.3v8.3M308.3 340.5h8.3M312.5 336.3v8.3M304.3 393.5h8.3M308.5 389.3v8.3M290.3 375.5h8.3M294.5 371.3v8.3M310.3 410.5h8.3M314.5 406.3v8.3M312.3 394.5h8.3M316.5 390.3v8.3M302.3 420.5h8.3M306.5 416.3v8.3M306.3 290.5h8.3M310.5 286.3v8.3M304.3 415.5h8.3M308.5 411.3v8.3M298.3 352.5h8.3M302.5 348.3v8.3M315.3 355.5h8.3M319.5 351.3v8.3M323.3 425.5h8.3M327.5 421.3v8.3M323.3 374.5h8.3M327.5 370.3v8.3M322.3 384.5h8.3M326.5 380.3v8.3M307.3 411.5h8.3M311.5 407.3v8.3M321.3 429.5h8.3M325.5 425.3v8.3M318.3 393.5h8.3M322.5 389.3v8.3M289.3 324.5h8.3M293.5 320.3v8.3M305.3 353.5h8.3M309.5 349.3v8.3M316.3 380.5h8.3M320.5 376.3v8.3M304.3 428.5h8.3M308.5 424.3v8.3M324.3 424.5h8.3M328.5 420.3v8.3M307.3 389.5h8.3M311.5 385.3v8.3M310.3 400.5h8.3M314.5 396.3v8.3M281.3 414.5h8.3M285.5 410.3v8.3M319.3 399.5h8.3M323.5 395.3v8.3M321.3 397.5h8.3M325.5 393.3v8.3M306.3 355.5h8.3M310.5 351.3v8.3M303.3 337.5h8.3M307.5 333.3v8.3M337.3 403.5h8.3M341.5 399.3v8.3M315.3 429.5h8.3M319.5 425.3v8.3M281.3 325.5h8.3M285.5 321.3v8.3M300.3 359.5h8.3M304.5 355.3v8.3M320.3 412.5h8.3M324.5 408.3v8.3M300.3 403.5h8.3M304.5 399.3v8.3M300.3 417.5h8.3M304.5 413.3v8.3M318.3 353.5h8.3M322.5 349.3v8.3M326.3 368.5h8.3M330.5 364.3v8.3M348.3 404.5h8.3M352.5 400.3v8.3M320.3 361.5h8.3M324.5 357.3v8.3M311.3 311.5h8.3M315.5 307.3v8.3M292.3 415.5h8.3M296.5 411.3v8.3M308.3 426.5h8.3M312.5 422.3v8.3M301.3 340.5h8.3M305.5 336.3v8.3M308.3 346.5h8.3M312.5 342.3v8.3M302.3 349.5h8.3M306.5 345.3v8.3M283.3 292.5h8.3M287.5 288.3v8.3M298.3 404.5h8.3M302.5 400.3v8.3M324.3 371.5h8.3M328.5 367.3v8.3M313.3 411.5h8.3M317.5 407.3v8.3M316.3 396.5h8.3M320.5 392.3v8.3M316.3 429.5h8.3M320.5 425.3v8.3M299.3 307.5h8.3M303.5 303.3v8.3M308.3 310.5h8.3M312.5 306.3v8.3M282.3 273.5h8.3M286.5 269.3v8.3M292.3 338.5h8.3M296.5 334.3v8.3M318.3 403.5h8.3M322.5 399.3v8.3M293.3 337.5h8.3M297.5 333.3v8.3M297.3 258.5h8.3M301.5 254.3v8.3M300.3 365.5h8.3M304.5 361.3v8.3M317.3 369.5h8.3M321.5 365.3v8.3M296.3 376.5h8.3M300.5 372.3v8.3M300.3 374.5h8.3M304.5 370.3v8.3M285.3 407.5h8.3M289.5 403.3v8.3M295.3 421.5h8.3M299.5 417.3v8.3M313.3 368.5h8.3M317.5 364.3v8.3M292.3 258.5h8.3M296.5 254.3v8.3M301.3 325.5h8.3M305.5 321.3v8.3M314.3 372.5h8.3M318.5 368.3v8.3M292.3 248.5h8.3M296.5 244.3v8.3M313.3 395.5h8.3M317.5 391.3v8.3M322.3 382.5h8.3M326.5 378.3v8.3M323.3 419.5h8.3M327.5 415.3v8.3M304.3 340.5h8.3M308.5 336.3v8.3M317.3 386.5h8.3M321.5 382.3v8.3M319.3 428.5h8.3M323.5 424.3v8.3M304.3 396.5h8.3M308.5 392.3v8.3M312.3 395.5h8.3M316.5 391.3v8.3M320.3 353.5h8.3M324.5 349.3v8.3M304.3 411.5h8.3M308.5 407.3v8.3M314.3 399.5h8.3M318.5 395.3v8.3M302.3 343.5h8.3M306.5 339.3v8.3M296.3 378.5h8.3M300.5 374.3v8.3M312.3 416.5h8.3M316.5 412.3v8.3M302.3 380.5h8.3M306.5 376.3v8.3M309.3 382.5h8.3M313.5 378.3v8.3M316.3 426.5h8.3M320.5 422.3v8.3M316.3 305.5h8.3M320.5 301.3v8.3M301.3 252.5h8.3M305.5 248.3v8.3M309.3 384.5h8.3M313.5 380.3v8.3M300.3 356.5h8.3M304.5 352.3v8.3M303.3 345.5h8.3M307.5 341.3v8.3M323.3 414.5h8.3M327.5 410.3v8.3M302.3 314.5h8.3M306.5 310.3v8.3M316.3 422.5h8.3M320.5 418.3v8.3M312.3 316.5h8.3M316.5 312.3v8.3M293.3 371.5h8.3M297.5 367.3v8.3M305.3 337.5h8.3M309.5 333.3v8.3M310.3 326.5h8.3M314.5 322.3v8.3M290.3 333.5h8.3M294.5 329.3v8.3M302.3 348.5h8.3M306.5 344.3v8.3M312.3 353.5h8.3M316.5 349.3v8.3M299.3 263.5h8.3M303.5 259.3v8.3M306.3 386.5h8.3M310.5 382.3v8.3M296.3 333.5h8.3M300.5 329.3v8.3M305.3 423.5h8.3M309.5 419.3v8.3M315.3 310.5h8.3M319.5 306.3v8.3M337.3 396.5h8.3M341.5 392.3v8.3M304.3 373.5h8.3M308.5 369.3v8.3M310.3 365.5h8.3M314.5 361.3v8.3M311.3 356.5h8.3M315.5 352.3v8.3M285.3 263.5h8.3M289.5 259.3v8.3M322.3 375.5h8.3M326.5 371.3v8.3M307.3 426.5h8.3M311.5 422.3v8.3M278.3 276.5h8.3M282.5 272.3v8.3M312.3 373.5h8.3M316.5 369.3v8.3M318.3 380.5h8.3M322.5 376.3v8.3M315.3 386.5h8.3M319.5 382.3v8.3M311.3 361.5h8.3M315.5 357.3v8.3M304.3 282.5h8.3M308.5 278.3v8.3M304.3 373.5h8.3M308.5 369.3v8.3M318.3 423.5h8.3M322.5 419.3v8.3M325.3 359.5h8.3M329.5 355.3v8.3M315.3 373.5h8.3M319.5 369.3v8.3M304.3 428.5h8.3M308.5 424.3v8.3M302.3 390.5h8.3M306.5 386.3v8.3M306.3 376.5h8.3M310.5 372.3v8.3M303.3 365.5h8.3M307.5 361.3v8.3M304.3 355.5h8.3M308.5 351.3v8.3M329.3 374.5h8.3M333.5 370.3v8.3M313.3 359.5h8.3M317.5 355.3v8.3M303.3 373.5h8.3M307.5 369.3v8.3M310.3 366.5h8.3M314.5 362.3v8.3M268.3 277.5h8.3M272.5 273.3v8.3M297.3 415.5h8.3M301.5 411.3v8.3M323.3 421.5h8.3M327.5 417.3v8.3M295.3 288.5h8.3M299.5 284.3v8.3M312.3 335.5h8.3M316.5 331.3v8.3M306.3 414.5h8.3M310.5 410.3v8.3M310.3 332.5h8.3M314.5 328.3v8.3M308.3 361.5h8.3M312.5 357.3v8.3M326.3 425.5h8.3M330.5 421.3v8.3M310.3 357.5h8.3M314.5 353.3v8.3M296.3 320.5h8.3M300.5 316.3v8.3M299.3 328.5h8.3M303.5 324.3v8.3M307.3 367.5h8.3M311.5 363.3v8.3M308.3 426.5h8.3M312.5 422.3v8.3M301.3 318.5h8.3M305.5 314.3v8.3M305.3 282.5h8.3M309.5 278.3v8.3M298.3 305.5h8.3M302.5 301.3v8.3M308.3 358.5h8.3M312.5 354.3v8.3M321.3 353.5h8.3M325.5 349.3v8.3M300.3 389.5h8.3M304.5 385.3v8.3M309.3 367.5h8.3M313.5 363.3v8.3M332.3 415.5h8.3M336.5 411.3v8.3M293.3 396.5h8.3M297.5 392.3v8.3M319.3 360.5h8.3M323.5 356.3v8.3M318.3 404.5h8.3M322.5 400.3v8.3M320.3 423.5h8.3M324.5 419.3v8.3M294.3 331.5h8.3M298.5 327.3v8.3M303.3 378.5h8.3M307.5 374.3v8.3M315.3 348.5h8.3M319.5 344.3v8.3M295.3 407.5h8.3M299.5 403.3v8.3M302.3 377.5h8.3M306.5 373.3v8.3M297.3 372.5h8.3M301.5 368.3v8.3M316.3 409.5h8.3M320.5 405.3v8.3M309.3 352.5h8.3M313.5 348.3v8.3M293.3 355.5h8.3M297.5 351.3v8.3M315.3 358.5h8.3M319.5 354.3v8.3M319.3 405.5h8.3M323.5 401.3v8.3M318.3 388.5h8.3M322.5 384.3v8.3M305.3 404.5h8.3M309.5 400.3v8.3M320.3 419.5h8.3M324.5 415.3v8.3M294.3 280.5h8.3M298.5 276.3v8.3M290.3 386.5h8.3M294.5 382.3v8.3M297.3 414.5h8.3M301.5 410.3v8.3M320.3 417.5h8.3M324.5 413.3v8.3M296.3 405.5h8.3M300.5 401.3v8.3M301.3 377.5h8.3M305.5 373.3v8.3M308.3 381.5h8.3M312.5 377.3v8.3M300.3 425.5h8.3M304.5 421.3v8.3M328.3 371.5h8.3M332.5 367.3v8.3M299.3 330.5h8.3M303.5 326.3v8.3M323.3 421.5h8.3M327.5 417.3v8.3M328.3 382.5h8.3M332.5 378.3v8.3M294.3 424.5h8.3M298.5 420.3v8.3M293.3 278.5h8.3M297.5 274.3v8.3M321.3 364.5h8.3M325.5 360.3v8.3M339.3 425.5h8.3M343.5 421.3v8.3M304.3 421.5h8.3M308.5 417.3v8.3M316.3 384.5h8.3M320.5 380.3v8.3M308.3 346.5h8.3M312.5 342.3v8.3M297.3 274.5h8.3M301.5 270.3v8.3M302.3 352.5h8.3M306.5 348.3v8.3M288.3 429.5h8.3M292.5 425.3v8.3M300.3 305.5h8.3M304.5 301.3v8.3M325.3 375.5h8.3M329.5 371.3v8.3M324.3 384.5h8.3M328.5 380.3v8.3M321.3 366.5h8.3M325.5 362.3v8.3M317.3 406.5h8.3M321.5 402.3v8.3M323.3 421.5h8.3M327.5 417.3v8.3M330.3 404.5h8.3M334.5 400.3v8.3M299.3 353.5h8.3M303.5 349.3v8.3M300.3 381.5h8.3M304.5 377.3v8.3M331.3 354.5h8.3M335.5 350.3v8.3M335.3 412.5h8.3M339.5 408.3v8.3M308.3 324.5h8.3M312.5 320.3v8.3M328.3 384.5h8.3M332.5 380.3v8.3M286.3 259.5h8.3M290.5 255.3v8.3M308.3 425.5h8.3M312.5 421.3v8.3M294.3 341.5h8.3M298.5 337.3v8.3M317.3 373.5h8.3M321.5 369.3v8.3M297.3 304.5h8.3M301.5 300.3v8.3M316.3 371.5h8.3M320.5 367.3v8.3M295.3 333.5h8.3M299.5 329.3v8.3M288.3 249.5h8.3M292.5 245.3v8.3M297.3 347.5h8.3M301.5 343.3v8.3M305.3 269.5h8.3M309.5 265.3v8.3M299.3 423.5h8.3M303.5 419.3v8.3M328.3 403.5h8.3M332.5 399.3v8.3M293.3 323.5h8.3M297.5 319.3v8.3M313.3 366.5h8.3M317.5 362.3v8.3M324.3 429.5h8.3M328.5 425.3v8.3M310.3 364.5h8.3M314.5 360.3v8.3M304.3 388.5h8.3M308.5 384.3v8.3M318.3 364.5h8.3M322.5 360.3v8.3M309.3 373.5h8.3M313.5 369.3v8.3M305.3 312.5h8.3M309.5 308.3v8.3M308.3 326.5h8.3M312.5 322.3v8.3M301.3 359.5h8.3M305.5 355.3v8.3M308.3 356.5h8.3M312.5 352.3v8.3M327.3 377.5h8.3M331.5 373.3v8.3M320.3 409.5h8.3M324.5 405.3v8.3M302.3 362.5h8.3M306.5 358.3v8.3M312.3 370.5h8.3M316.5 366.3v8.3M302.3 424.5h8.3M306.5 420.3v8.3M322.3 418.5h8.3M326.5 414.3v8.3M318.3 385.5h8.3M322.5 381.3v8.3M289.3 406.5h8.3M293.5 402.3v8.3M314.3 356.5h8.3M318.5 352.3v8.3M312.3 291.5h8.3M316.5 287.3v8.3M335.3 425.5h8.3M339.5 421.3v8.3M298.3 337.5h8.3M302.5 333.3v8.3M312.3 419.5h8.3M316.5 415.3v8.3M321.3 402.5h8.3M325.5 398.3v8.3M297.3 322.5h8.3M301.5 318.3v8.3M313.3 426.5h8.3M317.5 422.3v8.3M304.3 332.5h8.3M308.5 328.3v8.3M290.3 255.5h8.3M294.5 251.3v8.3M304.3 341.5h8.3M308.5 337.3v8.3M289.3 290.5h8.3M293.5 286.3v8.3M310.3 372.5h8.3M314.5 368.3v8.3M310.3 392.5h8.3M314.5 388.3v8.3M280.3 250.5h8.3M284.5 246.3v8.3M310.3 373.5h8.3M314.5 369.3v8.3M306.3 403.5h8.3M310.5 399.3v8.3M327.3 407.5h8.3M331.5 403.3v8.3M314.3 377.5h8.3M318.5 373.3v8.3M293.3 368.5h8.3M297.5 364.3v8.3M311.3 395.5h8.3M315.5 391.3v8.3M318.3 417.5h8.3M322.5 413.3v8.3M286.3 402.5h8.3M290.5 398.3v8.3M298.3 369.5h8.3M302.5 365.3v8.3M306.3 348.5h8.3M310.5 344.3v8.3M327.3 401.5h8.3M331.5 397.3v8.3M295.3 395.5h8.3M299.5 391.3v8.3M317.3 353.5h8.3M321.5 349.3v8.3M341.3 416.5h8.3M345.5 412.3v8.3M315.3 330.5h8.3M319.5 326.3v8.3M332.3 414.5h8.3M336.5 410.3v8.3M317.3 397.5h8.3M321.5 393.3v8.3M309.3 399.5h8.3M313.5 395.3v8.3M311.3 389.5h8.3M315.5 385.3v8.3M280.3 256.5h8.3M284.5 252.3v8.3M302.3 277.5h8.3M306.5 273.3v8.3M302.3 391.5h8.3M306.5 387.3v8.3M315.3 336.5h8.3M319.5 332.3v8.3M319.3 429.5h8.3M323.5 425.3v8.3M311.3 381.5h8.3M315.5 377.3v8.3M302.3 421.5h8.3M306.5 417.3v8.3M284.3 405.5h8.3M288.5 401.3v8.3M321.3 384.5h8.3M325.5 380.3v8.3M298.3 420.5h8.3M302.5 416.3v8.3M305.3 373.5h8.3M309.5 369.3v8.3M304.3 368.5h8.3M308.5 364.3v8.3M339.3 408.5h8.3M343.5 404.3v8.3M322.3 377.5h8.3M326.5 373.3v8.3M312.3 391.5h8.3M316.5 387.3v8.3M304.3 367.5h8.3M308.5 363.3v8.3M318.3 422.5h8.3M322.5 418.3v8.3M311.3 351.5h8.3M315.5 347.3v8.3M316.3 397.5h8.3M320.5 393.3v8.3M311.3 372.5h8.3M315.5 368.3v8.3M292.3 392.5h8.3M296.5 388.3v8.3M305.3 394.5h8.3M309.5 390.3v8.3M297.3 291.5h8.3M301.5 287.3v8.3M317.3 413.5h8.3M321.5 409.3v8.3M284.3 322.5h8.3M288.5 318.3v8.3M307.3 420.5h8.3M311.5 416.3v8.3M306.3 364.5h8.3M310.5 360.3v8.3M318.3 382.5h8.3M322.5 378.3v8.3M325.3 414.5h8.3M329.5 410.3v8.3M304.3 387.5h8.3M308.5 383.3v8.3M301.3 412.5h8.3M305.5 408.3v8.3M317.3 399.5h8.3M321.5 395.3v8.3M305.3 340.5h8.3M309.5 336.3v8.3M303.3 404.5h8.3M307.5 400.3v8.3M310.3 421.5h8.3M314.5 417.3v8.3M323.3 405.5h8.3M327.5 401.3v8.3M304.3 256.5h8.3M308.5 252.3v8.3M321.3 397.5h8.3M325.5 393.3v8.3M310.3 369.5h8.3M314.5 365.3v8.3M313.3 309.5h8.3M317.5 305.3v8.3M287.3 280.5h8.3M291.5 276.3v8.3M291.3 414.5h8.3M295.5 410.3v8.3M324.3 398.5h8.3M328.5 394.3v8.3M327.3 421.5h8.3M331.5 417.3v8.3M310.3 386.5h8.3M314.5 382.3v8.3M305.3 320.5h8.3M309.5 316.3v8.3M293.3 367.5h8.3M297.5 363.3v8.3M305.3 397.5h8.3M309.5 393.3v8.3M292.3 410.5h8.3M296.5 406.3v8.3M313.3 376.5h8.3M317.5 372.3v8.3M300.3 427.5h8.3M304.5 423.3v8.3M322.3 387.5h8.3M326.5 383.3v8.3M304.3 274.5h8.3M308.5 270.3v8.3M281.3 248.5h8.3M285.5 244.3v8.3M316.3 402.5h8.3M320.5 398.3v8.3M327.3 398.5h8.3M331.5 394.3v8.3M327.3 403.5h8.3M331.5 399.3v8.3M346.3 420.5h8.3M350.5 416.3v8.3M314.3 397.5h8.3M318.5 393.3v8.3M315.3 391.5h8.3M319.5 387.3v8.3M313.3 325.5h8.3M317.5 321.3v8.3M293.3 383.5h8.3M297.5 379.3v8.3M307.3 422.5h8.3M311.5 418.3v8.3M343.3 405.5h8.3M347.5 401.3v8.3M300.3 288.5h8.3M304.5 284.3v8.3M315.3 417.5h8.3M319.5 413.3v8.3M311.3 361.5h8.3M315.5 357.3v8.3M322.3 388.5h8.3M326.5 384.3v8.3M326.3 418.5h8.3M330.5 414.3v8.3M329.3 425.5h8.3M333.5 421.3v8.3M315.3 403.5h8.3M319.5 399.3v8.3M287.3 281.5h8.3M291.5 277.3v8.3M295.3 340.5h8.3M299.5 336.3v8.3M317.3 360.5h8.3M321.5 356.3v8.3M305.3 377.5h8.3M309.5 373.3v8.3M294.3 364.5h8.3M298.5 360.3v8.3M315.3 332.5h8.3M319.5 328.3v8.3M326.3 410.5h8.3M330.5 406.3v8.3M303.3 359.5h8.3M307.5 355.3v8.3M309.3 399.5h8.3M313.5 395.3v8.3M300.3 384.5h8.3M304.5 380.3v8.3M330.3 396.5h8.3M334.5 392.3v8.3M298.3 301.5h8.3M302.5 297.3v8.3M298.3 379.5h8.3M302.5 375.3v8.3M327.3 422.5h8.3M331.5 418.3v8.3M313.3 366.5h8.3M317.5 362.3v8.3M305.3 357.5h8.3M309.5 353.3v8.3M300.3 274.5h8.3M304.5 270.3v8.3M304.3 403.5h8.3M308.5 399.3v8.3M299.3 375.5h8.3M303.5 371.3v8.3M283.3 254.5h8.3M287.5 250.3v8.3M307.3 370.5h8.3M311.5 366.3v8.3M302.3 375.5h8.3M306.5 371.3v8.3M317.3 387.5h8.3M321.5 383.3v8.3M302.3 299.5h8.3M306.5 295.3v8.3M310.3 349.5h8.3M314.5 345.3v8.3M302.3 404.5h8.3M306.5 400.3v8.3M305.3 378.5h8.3M309.5 374.3v8.3M293.3 347.5h8.3M297.5 343.3v8.3M333.3 414.5h8.3M337.5 410.3v8.3M305.3 423.5h8.3M309.5 419.3v8.3M313.3 372.5h8.3M317.5 368.3v8.3M319.3 418.5h8.3M323.5 414.3v8.3M287.3 255.5h8.3M291.5 251.3v8.3M302.3 329.5h8.3M306.5 325.3v8.3M299.3 287.5h8.3M303.5 283.3v8.3M315.3 362.5h8.3M319.5 358.3v8.3M303.3 395.5h8.3M307.5 391.3v8.3M303.3 341.5h8.3M307.5 337.3v8.3M307.3 396.5h8.3M311.5 392.3v8.3M299.3 257.5h8.3M303.5 253.3v8.3M286.3 340.5h8.3M290.5 336.3v8.3M314.3 368.5h8.3M318.5 364.3v8.3M309.3 339.5h8.3M313.5 335.3v8.3M311.3 409.5h8.3M315.5 405.3v8.3M334.3 424.5h8.3M338.5 420.3v8.3M307.3 421.5h8.3M311.5 417.3v8.3M296.3 282.5h8.3M300.5 278.3v8.3M314.3 416.5h8.3M318.5 412.3v8.3M295.3 390.5h8.3M299.5 386.3v8.3M313.3 321.5h8.3M317.5 317.3v8.3M311.3 429.5h8.3M315.5 425.3v8.3M336.3 387.5h8.3M340.5 383.3v8.3M313.3 412.5h8.3M317.5 408.3v8.3M328.3 381.5h8.3M332.5 377.3v8.3M312.3 381.5h8.3M316.5 377.3v8.3M300.3 411.5h8.3M304.5 407.3v8.3M307.3 321.5h8.3M311.5 317.3v8.3M297.3 247.5h8.3M301.5 243.3v8.3M315.3 368.5h8.3M319.5 364.3v8.3M309.3 354.5h8.3M313.5 350.3v8.3M309.3 285.5h8.3M313.5 281.3v8.3M306.3 378.5h8.3M310.5 374.3v8.3M312.3 355.5h8.3M316.5 351.3v8.3M317.3 369.5h8.3M321.5 365.3v8.3M306.3 379.5h8.3M310.5 375.3v8.3M312.3 371.5h8.3M316.5 367.3v8.3M298.3 358.5h8.3M302.5 354.3v8.3M306.3 388.5h8.3M310.5 384.3v8.3M288.3 266.5h8.3M292.5 262.3v8.3M334.3 404.5h8.3M338.5 400.3v8.3M303.3 261.5h8.3M307.5 257.3v8.3M311.3 305.5h8.3M315.5 301.3v8.3M321.3 387.5h8.3M325.5 383.3v8.3M312.3 419.5h8.3M316.5 415.3v8.3M301.3 428.5h8.3M305.5 424.3v8.3M291.3 428.5h8.3M295.5 424.3v8.3M297.3 396.5h8.3M301.5 392.3v8.3M314.3 413.5h8.3M318.5 409.3v8.3M327.3 418.5h8.3M331.5 414.3v8.3M321.3 403.5h8.3M325.5 399.3v8.3M304.3 390.5h8.3M308.5 386.3v8.3M269.3 402.5h8.3M273.5 398.3v8.3M305.3 396.5h8.3M309.5 392.3v8.3M302.3 383.5h8.3M306.5 379.3v8.3M323.3 391.5h8.3M327.5 387.3v8.3M331.3 422.5h8.3M335.5 418.3v8.3M308.3 400.5h8.3M312.5 396.3v8.3M303.3 379.5h8.3M307.5 375.3v8.3M299.3 344.5h8.3M303.5 340.3v8.3M309.3 390.5h8.3M313.5 386.3v8.3M293.3 351.5h8.3M297.5 347.3v8.3M292.3 283.5h8.3M296.5 279.3v8.3M300.3 425.5h8.3M304.5 421.3v8.3M303.3 420.5h8.3M307.5 416.3v8.3M298.3 414.5h8.3M302.5 410.3v8.3M304.3 387.5h8.3M308.5 383.3v8.3M307.3 382.5h8.3M311.5 378.3v8.3M318.3 372.5h8.3M322.5 368.3v8.3M318.3 408.5h8.3M322.5 404.3v8.3M340.3 413.5h8.3M344.5 409.3v8.3M312.3 395.5h8.3M316.5 391.3v8.3M302.3 421.5h8.3M306.5 417.3v8.3M309.3 384.5h8.3M313.5 380.3v8.3M306.3 383.5h8.3M310.5 379.3v8.3M302.3 422.5h8.3M306.5 418.3v8.3M307.3 395.5h8.3M311.5 391.3v8.3M273.3 330.5h8.3M277.5 326.3v8.3M287.3 289.5h8.3M291.5 285.3v8.3M335.3 419.5h8.3M339.5 415.3v8.3M308.3 399.5h8.3M312.5 395.3v8.3M304.3 392.5h8.3M308.5 388.3v8.3M293.3 317.5h8.3M297.5 313.3v8.3M299.3 369.5h8.3M303.5 365.3v8.3M320.3 396.5h8.3M324.5 392.3v8.3M305.3 318.5h8.3M309.5 314.3v8.3M313.3 395.5h8.3M317.5 391.3v8.3M311.3 395.5h8.3M315.5 391.3v8.3M300.3 334.5h8.3M304.5 330.3v8.3M331.3 407.5h8.3M335.5 403.3v8.3M309.3 346.5h8.3M313.5 342.3v8.3M294.3 383.5h8.3M298.5 379.3v8.3M316.3 390.5h8.3M320.5 386.3v8.3M329.3 380.5h8.3M333.5 376.3v8.3M319.3 374.5h8.3M323.5 370.3v8.3M300.3 341.5h8.3M304.5 337.3v8.3M298.3 400.5h8.3M302.5 396.3v8.3M294.3 247.5h8.3M298.5 243.3v8.3M306.3 417.5h8.3M310.5 413.3v8.3M309.3 419.5h8.3M313.5 415.3v8.3M313.3 338.5h8.3M317.5 334.3v8.3M306.3 364.5h8.3M310.5 360.3v8.3M302.3 358.5h8.3M306.5 354.3v8.3M303.3 360.5h8.3M307.5 356.3v8.3M313.3 410.5h8.3M317.5 406.3v8.3M310.3 325.5h8.3M314.5 321.3v8.3M319.3 428.5h8.3M323.5 424.3v8.3M304.3 392.5h8.3M308.5 388.3v8.3M301.3 269.5h8.3M305.5 265.3v8.3M334.3 426.5h8.3M338.5 422.3v8.3M280.3 390.5h8.3M284.5 386.3v8.3M302.3 308.5h8.3M306.5 304.3v8.3M282.3 323.5h8.3M286.5 319.3v8.3M322.3 428.5h8.3M326.5 424.3v8.3M327.3 377.5h8.3M331.5 373.3v8.3M317.3 343.5h8.3M321.5 339.3v8.3M307.3 347.5h8.3M311.5 343.3v8.3M310.3 344.5h8.3M314.5 340.3v8.3M318.3 358.5h8.3M322.5 354.3v8.3M316.3 365.5h8.3M320.5 361.3v8.3M295.3 353.5h8.3M299.5 349.3v8.3M318.3 362.5h8.3M322.5 358.3v8.3M304.3 256.5h8.3M308.5 252.3v8.3M318.3 365.5h8.3M322.5 361.3v8.3M289.3 365.5h8.3M293.5 361.3v8.3M323.3 421.5h8.3M327.5 417.3v8.3M316.3 355.5h8.3M320.5 351.3v8.3M311.3 379.5h8.3M315.5 375.3v8.3M306.3 360.5h8.3M310.5 356.3v8.3M319.3 415.5h8.3M323.5 411.3v8.3M322.3 386.5h8.3M326.5 382.3v8.3M299.3 413.5h8.3M303.5 409.3v8.3M302.3 425.5h8.3M306.5 421.3v8.3M320.3 358.5h8.3M324.5 354.3v8.3M308.3 408.5h8.3M312.5 404.3v8.3M320.3 406.5h8.3M324.5 402.3v8.3M342.3 429.5h8.3M346.5 425.3v8.3M309.3 402.5h8.3M313.5 398.3v8.3M308.3 340.5h8.3M312.5 336.3v8.3M285.3 318.5h8.3M289.5 314.3v8.3M309.3 382.5h8.3M313.5 378.3v8.3M296.3 406.5h8.3M300.5 402.3v8.3M297.3 381.5h8.3M301.5 377.3v8.3M322.3 408.5h8.3M326.5 404.3v8.3M293.3 292.5h8.3M297.5 288.3v8.3M308.3 402.5h8.3M312.5 398.3v8.3M310.3 360.5h8.3M314.5 356.3v8.3M302.3 371.5h8.3M306.5 367.3v8.3M333.3 423.5h8.3M337.5 419.3v8.3M311.3 386.5h8.3M315.5 382.3v8.3M285.3 385.5h8.3M289.5 381.3v8.3M303.3 362.5h8.3M307.5 358.3v8.3M319.3 417.5h8.3M323.5 413.3v8.3M311.3 408.5h8.3M315.5 404.3v8.3M309.3 395.5h8.3M313.5 391.3v8.3M314.3 388.5h8.3M318.5 384.3v8.3M288.3 302.5h8.3M292.5 298.3v8.3M300.3 394.5h8.3M304.5 390.3v8.3M316.3 336.5h8.3M320.5 332.3v8.3M310.3 428.5h8.3M314.5 424.3v8.3M298.3 387.5h8.3M302.5 383.3v8.3M312.3 391.5h8.3M316.5 387.3v8.3M311.3 429.5h8.3M315.5 425.3v8.3M282.3 276.5h8.3M286.5 272.3v8.3M316.3 355.5h8.3M320.5 351.3v8.3M306.3 416.5h8.3M310.5 412.3v8.3M295.3 406.5h8.3M299.5 402.3v8.3M299.3 249.5h8.3M303.5 245.3v8.3M303.3 343.5h8.3M307.5 339.3v8.3M310.3 355.5h8.3M314.5 351.3v8.3M307.3 388.5h8.3M311.5 384.3v8.3M311.3 409.5h8.3M315.5 405.3v8.3M316.3 397.5h8.3M320.5 393.3v8.3M305.3 366.5h8.3M309.5 362.3v8.3M320.3 360.5h8.3M324.5 356.3v8.3M299.3 351.5h8.3M303.5 347.3v8.3M323.3 402.5h8.3M327.5 398.3v8.3M312.3 408.5h8.3M316.5 404.3v8.3M307.3 401.5h8.3M311.5 397.3v8.3M332.3 417.5h8.3M336.5 413.3v8.3M298.3 303.5h8.3M302.5 299.3v8.3M311.3 348.5h8.3M315.5 344.3v8.3M308.3 353.5h8.3M312.5 349.3v8.3M306.3 359.5h8.3M310.5 355.3v8.3M295.3 273.5h8.3M299.5 269.3v8.3M301.3 415.5h8.3M305.5 411.3v8.3M311.3 356.5h8.3M315.5 352.3v8.3M334.3 422.5h8.3M338.5 418.3v8.3M312.3 354.5h8.3M316.5 350.3v8.3M334.3 425.5h8.3M338.5 421.3v8.3M312.3 381.5h8.3M316.5 377.3v8.3M298.3 368.5h8.3M302.5 364.3v8.3M302.3 343.5h8.3M306.5 339.3v8.3M298.3 390.5h8.3M302.5 386.3v8.3M323.3 366.5h8.3M327.5 362.3v8.3M309.3 324.5h8.3M313.5 320.3v8.3M323.3 416.5h8.3M327.5 412.3v8.3M314.3 425.5h8.3M318.5 421.3v8.3M309.3 364.5h8.3M313.5 360.3v8.3M293.3 410.5h8.3M297.5 406.3v8.3M298.3 395.5h8.3M302.5 391.3v8.3M292.3 263.5h8.3M296.5 259.3v8.3M309.3 394.5h8.3M313.5 390.3v8.3M305.3 378.5h8.3M309.5 374.3v8.3M297.3 342.5h8.3M301.5 338.3v8.3M313.3 388.5h8.3M317.5 384.3v8.3M304.3 369.5h8.3M308.5 365.3v8.3M310.3 404.5h8.3M314.5 400.3v8.3M320.3 422.5h8.3M324.5 418.3v8.3M305.3 363.5h8.3M309.5 359.3v8.3M272.3 414.5h8.3M276.5 410.3v8.3M326.3 382.5h8.3M330.5 378.3v8.3M312.3 342.5h8.3M316.5 338.3v8.3M316.3 366.5h8.3M320.5 362.3v8.3M303.3 359.5h8.3M307.5 355.3v8.3M298.3 370.5h8.3M302.5 366.3v8.3M303.3 351.5h8.3M307.5 347.3v8.3M311.3 331.5h8.3M315.5 327.3v8.3M331.3 401.5h8.3M335.5 397.3v8.3M313.3 400.5h8.3M317.5 396.3v8.3M319.3 423.5h8.3M323.5 419.3v8.3M298.3 409.5h8.3M302.5 405.3v8.3M316.3 426.5h8.3M320.5 422.3v8.3M314.3 363.5h8.3M318.5 359.3v8.3M330.3 419.5h8.3M334.5 415.3v8.3M318.3 383.5h8.3M322.5 379.3v8.3M303.3 361.5h8.3M307.5 357.3v8.3M317.3 361.5h8.3M321.5 357.3v8.3M307.3 339.5h8.3M311.5 335.3v8.3M314.3 389.5h8.3M318.5 385.3v8.3M309.3 417.5h8.3M313.5 413.3v8.3M305.3 301.5h8.3M309.5 297.3v8.3M308.3 363.5h8.3M312.5 359.3v8.3M309.3 358.5h8.3M313.5 354.3v8.3M309.3 409.5h8.3M313.5 405.3v8.3M336.3 427.5h8.3M340.5 423.3v8.3M307.3 370.5h8.3M311.5 366.3v8.3M294.3 358.5h8.3M298.5 354.3v8.3M295.3 300.5h8.3M299.5 296.3v8.3M271.3 419.5h8.3M275.5 415.3v8.3M304.3 369.5h8.3M308.5 365.3v8.3M317.3 355.5h8.3M321.5 351.3v8.3M292.3 380.5h8.3M296.5 376.3v8.3M313.3 400.5h8.3M317.5 396.3v8.3M321.3 421.5h8.3M325.5 417.3v8.3M310.3 393.5h8.3M314.5 389.3v8.3M323.3 396.5h8.3M327.5 392.3v8.3M301.3 296.5h8.3M305.5 292.3v8.3M342.3 429.5h8.3M346.5 425.3v8.3M314.3 376.5h8.3M318.5 372.3v8.3M299.3 395.5h8.3M303.5 391.3v8.3M277.3 393.5h8.3M281.5 389.3v8.3M324.3 398.5h8.3M328.5 394.3v8.3M293.3 303.5h8.3M297.5 299.3v8.3M300.3 309.5h8.3M304.5 305.3v8.3M298.3 370.5h8.3M302.5 366.3v8.3M308.3 425.5h8.3M312.5 421.3v8.3M308.3 397.5h8.3M312.5 393.3v8.3M304.3 339.5h8.3M308.5 335.3v8.3M278.3 283.5h8.3M282.5 279.3v8.3M310.3 375.5h8.3M314.5 371.3v8.3M329.3 398.5h8.3M333.5 394.3v8.3M313.3 363.5h8.3M317.5 359.3v8.3M294.3 283.5h8.3M298.5 279.3v8.3M297.3 424.5h8.3M301.5 420.3v8.3M330.3 424.5h8.3M334.5 420.3v8.3M302.3 339.5h8.3M306.5 335.3v8.3M310.3 400.5h8.3M314.5 396.3v8.3M300.3 280.5h8.3M304.5 276.3v8.3M305.3 370.5h8.3M309.5 366.3v8.3M317.3 398.5h8.3M321.5 394.3v8.3M311.3 371.5h8.3M315.5 367.3v8.3M349.3 428.5h8.3M353.5 424.3v8.3M300.3 368.5h8.3M304.5 364.3v8.3M297.3 399.5h8.3M301.5 395.3v8.3M293.3 380.5h8.3M297.5 376.3v8.3M300.3 341.5h8.3M304.5 337.3v8.3M299.3 382.5h8.3M303.5 378.3v8.3M297.3 406.5h8.3M301.5 402.3v8.3M301.3 388.5h8.3M305.5 384.3v8.3M282.3 424.5h8.3M286.5 420.3v8.3M295.3 379.5h8.3M299.5 375.3v8.3M312.3 360.5h8.3M316.5 356.3v8.3M320.3 391.5h8.3M324.5 387.3v8.3M284.3 251.5h8.3M288.5 247.3v8.3M318.3 355.5h8.3M322.5 351.3v8.3M299.3 369.5h8.3M303.5 365.3v8.3M307.3 427.5h8.3M311.5 423.3v8.3M297.3 377.5h8.3M301.5 373.3v8.3M303.3 384.5h8.3M307.5 380.3v8.3M297.3 382.5h8.3M301.5 378.3v8.3M327.3 394.5h8.3M331.5 390.3v8.3M313.3 374.5h8.3M317.5 370.3v8.3M332.3 381.5h8.3M336.5 377.3v8.3M322.3 428.5h8.3M326.5 424.3v8.3M304.3 334.5h8.3M308.5 330.3v8.3M300.3 375.5h8.3M304.5 371.3v8.3M336.3 371.5h8.3M340.5 367.3v8.3M328.3 399.5h8.3M332.5 395.3v8.3M311.3 366.5h8.3M315.5 362.3v8.3M310.3 389.5h8.3M314.5 385.3v8.3M314.3 311.5h8.3M318.5 307.3v8.3M316.3 342.5h8.3M320.5 338.3v8.3M322.3 378.5h8.3M326.5 374.3v8.3M304.3 297.5h8.3M308.5 293.3v8.3M316.3 408.5h8.3M320.5 404.3v8.3M299.3 324.5h8.3M303.5 320.3v8.3M311.3 419.5h8.3M315.5 415.3v8.3M284.3 278.5h8.3M288.5 274.3v8.3M310.3 322.5h8.3M314.5 318.3v8.3M301.3 385.5h8.3M305.5 381.3v8.3M316.3 356.5h8.3M320.5 352.3v8.3M304.3 323.5h8.3M308.5 319.3v8.3M321.3 382.5h8.3M325.5 378.3v8.3M299.3 343.5h8.3M303.5 339.3v8.3M330.3 410.5h8.3M334.5 406.3v8.3M305.3 349.5h8.3M309.5 345.3v8.3M297.3 416.5h8.3M301.5 412.3v8.3M308.3 318.5h8.3M312.5 314.3v8.3M281.3 296.5h8.3M285.5 292.3v8.3M290.3 321.5h8.3M294.5 317.3v8.3M266.3 257.5h8.3M270.5 253.3v8.3M269.3 279.5h8.3M273.5 275.3v8.3M266.3 290.5h8.3M270.5 286.3v8.3M288.3 259.5h8.3M292.5 255.3v8.3M289.3 270.5h8.3M293.5 266.3v8.3M267.3 271.5h8.3M271.5 267.3v8.3M292.3 260.5h8.3M296.5 256.3v8.3M282.3 294.5h8.3M286.5 290.3v8.3M287.3 312.5h8.3M291.5 308.3v8.3M274.3 337.5h8.3M278.5 333.3v8.3M271.3 270.5h8.3M275.5 266.3v8.3M282.3 308.5h8.3M286.5 304.3v8.3M270.3 250.5h8.3M274.5 246.3v8.3M273.3 303.5h8.3M277.5 299.3v8.3M273.3 264.5h8.3M277.5 260.3v8.3M278.3 326.5h8.3M282.5 322.3v8.3M270.3 310.5h8.3M274.5 306.3v8.3M272.3 328.5h8.3M276.5 324.3v8.3M287.3 341.5h8.3M291.5 337.3v8.3M280.3 276.5h8.3M284.5 272.3v8.3M289.3 302.5h8.3M293.5 298.3v8.3M290.3 309.5h8.3M294.5 305.3v8.3M281.3 328.5h8.3M285.5 324.3v8.3M266.3 303.5h8.3M270.5 299.3v8.3M288.3 275.5h8.3M292.5 271.3v8.3M291.3 263.5h8.3M295.5 259.3v8.3M270.3 285.5h8.3M274.5 281.3v8.3M277.3 337.5h8.3M281.5 333.3v8.3M269.3 308.5h8.3M273.5 304.3v8.3M266.3 265.5h8.3M270.5 261.3v8.3M268.3 320.5h8.3M272.5 316.3v8.3M277.3 257.5h8.3M281.5 253.3v8.3M278.3 338.5h8.3M282.5 334.3v8.3M272.3 322.5h8.3M276.5 318.3v8.3M266.3 277.5h8.3M270.5 273.3v8.3M269.3 260.5h8.3M273.5 256.3v8.3M266.3 344.5h8.3M270.5 340.3v8.3M276.3 259.5h8.3M280.5 255.3v8.3M278.3 296.5h8.3M282.5 292.3v8.3M277.3 335.5h8.3M281.5 331.3v8.3M283.3 371.5h8.3M287.5 367.3v8.3M275.3 365.5h8.3M279.5 361.3v8.3M273.3 389.5h8.3M277.5 385.3v8.3M279.3 353.5h8.3M283.5 349.3v8.3M282.3 379.5h8.3M286.5 375.3v8.3M280.3 370.5h8.3M284.5 366.3v8.3M275.3 349.5h8.3M279.5 345.3v8.3M282.3 349.5h8.3M286.5 345.3v8.3M288.3 372.5h8.3M292.5 368.3v8.3M277.3 395.5h8.3M281.5 391.3v8.3M283.3 341.5h8.3M287.5 337.3v8.3M269.3 352.5h8.3M273.5 348.3v8.3M272.3 388.5h8.3M276.5 384.3v8.3M282.3 397.5h8.3M286.5 393.3v8.3M275.3 396.5h8.3M279.5 392.3v8.3M284.3 354.5h8.3M288.5 350.3v8.3M274.3 337.5h8.3M278.5 333.3v8.3M288.3 364.5h8.3M292.5 360.3v8.3M283.3 373.5h8.3M287.5 369.3v8.3M285.3 347.5h8.3M289.5 343.3v8.3M279.3 389.5h8.3M283.5 385.3v8.3M285.3 367.5h8.3M289.5 363.3v8.3M275.3 364.5h8.3M279.5 360.3v8.3M282.3 375.5h8.3M286.5 371.3v8.3M274.3 370.5h8.3M278.5 366.3v8.3M277.3 378.5h8.3M281.5 374.3v8.3M283.3 377.5h8.3M287.5 373.3v8.3M296.3 401.5h8.3M300.5 397.3v8.3M291.3 388.5h8.3M295.5 384.3v8.3M294.3 420.5h8.3M298.5 416.3v8.3M299.3 387.5h8.3M303.5 383.3v8.3M287.3 384.5h8.3M291.5 380.3v8.3M296.3 406.5h8.3M300.5 402.3v8.3M293.3 356.5h8.3M297.5 352.3v8.3M299.3 419.5h8.3M303.5 415.3v8.3M281.3 421.5h8.3M285.5 417.3v8.3M274.3 423.5h8.3M278.5 419.3v8.3M298.3 394.5h8.3M302.5 390.3v8.3M289.3 423.5h8.3M293.5 419.3v8.3M293.3 415.5h8.3M297.5 411.3v8.3M299.3 412.5h8.3M303.5 408.3v8.3M299.3 414.5h8.3M303.5 410.3v8.3M298.3 405.5h8.3M302.5 401.3v8.3M298.3 409.5h8.3M302.5 405.3v8.3M296.3 396.5h8.3M300.5 392.3v8.3M297.3 426.5h8.3M301.5 422.3v8.3M299.3 347.5h8.3M303.5 343.3v8.3M272.3 406.5h8.3M276.5 402.3v8.3M299.3 421.5h8.3M303.5 417.3v8.3M294.3 411.5h8.3M298.5 407.3v8.3M279.3 405.5h8.3M283.5 401.3v8.3M296.3 352.5h8.3M300.5 348.3v8.3M295.3 426.5h8.3M299.5 422.3v8.3M288.3 426.5h8.3M292.5 422.3v8.3M294.3 378.5h8.3M298.5 374.3v8.3M281.3 405.5h8.3M285.5 401.3v8.3M280.3 398.5h8.3M284.5 394.3v8.3M282.3 379.5h8.3M286.5 375.3v8.3M293.3 381.5h8.3M297.5 377.3v8.3M293.3 398.5h8.3M297.5 394.3v8.3M294.3 369.5h8.3M298.5 365.3v8.3M288.3 407.5h8.3M292.5 403.3v8.3M293.3 426.5h8.3M297.5 422.3v8.3M276.3 411.5h8.3M280.5 407.3v8.3M280.3 412.5h8.3M284.5 408.3v8.3M293.3 415.5h8.3M297.5 411.3v8.3M297.3 385.5h8.3M301.5 381.3v8.3M299.3 371.5h8.3M303.5 367.3v8.3M273.3 424.5h8.3M277.5 420.3v8.3M293.3 417.5h8.3M297.5 413.3v8.3M290.3 424.5h8.3M294.5 420.3v8.3M296.3 346.5h8.3M300.5 342.3v8.3M292.3 368.5h8.3M296.5 364.3v8.3M292.3 423.5h8.3M296.5 419.3v8.3M295.3 399.5h8.3M299.5 395.3v8.3M283.3 407.5h8.3M287.5 403.3v8.3M289.3 373.5h8.3M293.5 369.3v8.3M298.3 403.5h8.3M302.5 399.3v8.3M285.3 404.5h8.3M289.5 400.3v8.3M293.3 412.5h8.3M297.5 408.3v8.3M293.3 421.5h8.3M297.5 417.3v8.3M287.3 415.5h8.3M291.5 411.3v8.3M291.3 419.5h8.3M295.5 415.3v8.3M296.3 404.5h8.3M300.5 400.3v8.3M285.3 425.5h8.3M289.5 421.3v8.3M296.3 420.5h8.3M300.5 416.3v8.3M299.3 426.5h8.3M303.5 422.3v8.3M276.3 416.5h8.3M280.5 412.3v8.3M296.3 383.5h8.3M300.5 379.3v8.3M270.3 385.5h8.3M274.5 381.3v8.3M298.3 413.5h8.3M302.5 409.3v8.3M286.3 391.5h8.3M290.5 387.3v8.3M288.3 402.5h8.3M292.5 398.3v8.3M296.3 392.5h8.3M300.5 388.3v8.3M293.3 413.5h8.3M297.5 409.3v8.3M292.3 399.5h8.3M296.5 395.3v8.3M294.3 408.5h8.3M298.5 404.3v8.3M297.3 418.5h8.3M301.5 414.3v8.3M288.3 422.5h8.3M292.5 418.3v8.3M289.3 414.5h8.3M293.5 410.3v8.3M291.3 389.5h8.3M295.5 385.3v8.3M290.3 359.5h8.3M294.5 355.3v8.3M269.3 411.5h8.3M273.5 407.3v8.3M295.3 368.5h8.3M299.5 364.3v8.3M268.3 417.5h8.3M272.5 413.3v8.3M289.3 424.5h8.3M293.5 420.3v8.3M293.3 426.5h8.3M297.5 422.3v8.3M295.3 383.5h8.3M299.5 379.3v8.3M290.3 361.5h8.3M294.5 357.3v8.3M294.3 399.5h8.3M298.5 395.3v8.3M274.3 416.5h8.3M278.5 412.3v8.3M271.3 389.5h8.3M275.5 385.3v8.3M296.3 398.5h8.3M300.5 394.3v8.3M290.3 403.5h8.3M294.5 399.3v8.3M273.3 406.5h8.3M277.5 402.3v8.3M281.3 373.5h8.3M285.5 369.3v8.3M296.3 365.5h8.3M300.5 361.3v8.3M296.3 377.5h8.3M300.5 373.3v8.3M292.3 405.5h8.3M296.5 401.3v8.3M295.3 401.5h8.3M299.5 397.3v8.3M287.3 410.5h8.3M291.5 406.3v8.3M285.3 386.5h8.3M289.5 382.3v8.3M299.3 425.5h8.3M303.5 421.3v8.3M283.3 424.5h8.3M287.5 420.3v8.3M277.3 378.5h8.3M281.5 374.3v8.3M287.3 343.5h8.3M291.5 339.3v8.3M298.3 414.5h8.3M302.5 410.3v8.3M273.3 425.5h8.3M277.5 421.3v8.3M298.3 373.5h8.3M302.5 369.3v8.3M299.3 412.5h8.3M303.5 408.3v8.3M330.3 436.5h8.3M334.5 432.3v8.3M332.3 434.5h8.3M336.5 430.3v8.3M342.3 452.5h8.3M346.5 448.3v8.3M340.3 431.5h8.3M344.5 427.3v8.3M333.3 429.5h8.3M337.5 425.3v8.3M336.3 439.5h8.3M340.5 435.3v8.3M347.3 445.5h8.3M351.5 441.3v8.3M327.3 445.5h8.3M331.5 441.3v8.3M327.3 435.5h8.3M331.5 431.3v8.3M335.3 432.5h8.3M339.5 428.3v8.3M343.3 445.5h8.3M347.5 441.3v8.3M332.3 433.5h8.3M336.5 429.3v8.3M330.3 439.5h8.3M334.5 435.3v8.3M344.3 436.5h8.3M348.5 432.3v8.3M328.3 436.5h8.3M332.5 432.3v8.3M338.3 428.5h8.3M342.5 424.3v8.3M346.3 437.5h8.3M350.5 433.3v8.3M343.3 440.5h8.3M347.5 436.3v8.3M322.3 439.5h8.3M326.5 435.3v8.3M339.3 429.5h8.3M343.5 425.3v8.3M327.3 430.5h8.3M331.5 426.3v8.3M336.3 428.5h8.3M340.5 424.3v8.3M336.3 437.5h8.3M340.5 433.3v8.3M331.3 435.5h8.3M335.5 431.3v8.3M329.3 447.5h8.3M333.5 443.3v8.3M322.3 439.5h8.3M326.5 435.3v8.3M339.3 437.5h8.3M343.5 433.3v8.3M339.3 448.5h8.3M343.5 444.3v8.3M326.3 431.5h8.3M330.5 427.3v8.3M314.3 438.5h8.3M318.5 434.3v8.3M326.3 448.5h8.3M330.5 444.3v8.3M324.3 446.5h8.3M328.5 442.3v8.3M341.3 432.5h8.3M345.5 428.3v8.3M314.3 437.5h8.3M318.5 433.3v8.3M325.3 444.5h8.3M329.5 440.3v8.3M327.3 434.5h8.3M331.5 430.3v8.3M329.3 444.5h8.3M333.5 440.3v8.3M332.3 433.5h8.3M336.5 429.3v8.3M317.3 434.5h8.3M321.5 430.3v8.3M323.3 428.5h8.3M327.5 424.3v8.3M345.3 438.5h8.3M349.5 434.3v8.3M329.3 434.5h8.3M333.5 430.3v8.3M347.3 441.5h8.3M351.5 437.3v8.3M325.3 439.5h8.3M329.5 435.3v8.3M331.3 440.5h8.3M335.5 436.3v8.3M335.3 438.5h8.3M339.5 434.3v8.3M341.3 431.5h8.3M345.5 427.3v8.3M320.3 437.5h8.3M324.5 433.3v8.3M340.3 429.5h8.3M344.5 425.3v8.3M331.3 450.5h8.3M335.5 446.3v8.3M310.3 429.5h8.3M314.5 425.3v8.3M332.3 435.5h8.3M336.5 431.3v8.3M340.3 431.5h8.3M344.5 427.3v8.3M334.3 429.5h8.3M338.5 425.3v8.3M336.3 428.5h8.3M340.5 424.3v8.3M329.3 439.5h8.3M333.5 435.3v8.3M320.3 433.5h8.3M324.5 429.3v8.3M337.3 438.5h8.3M341.5 434.3v8.3M336.3 429.5h8.3M340.5 425.3v8.3M334.3 437.5h8.3M338.5 433.3v8.3M334.3 438.5h8.3M338.5 434.3v8.3M341.3 443.5h8.3M345.5 439.3v8.3M326.3 447.5h8.3M330.5 443.3v8.3M330.3 434.5h8.3M334.5 430.3v8.3M330.3 429.5h8.3M334.5 425.3v8.3M335.3 434.5h8.3M339.5 430.3v8.3M342.3 430.5h8.3M346.5 426.3v8.3M335.3 429.5h8.3M339.5 425.3v8.3M333.3 435.5h8.3M337.5 431.3v8.3M332.3 431.5h8.3M336.5 427.3v8.3M341.3 444.5h8.3M345.5 440.3v8.3M328.3 444.5h8.3M332.5 440.3v8.3M332.3 429.5h8.3M336.5 425.3v8.3M333.3 434.5h8.3M337.5 430.3v8.3M321.3 440.5h8.3M325.5 436.3v8.3M317.3 440.5h8.3M321.5 436.3v8.3M326.3 445.5h8.3M330.5 441.3v8.3M319.3 434.5h8.3M323.5 430.3v8.3M333.3 430.5h8.3M337.5 426.3v8.3M320.3 442.5h8.3M324.5 438.3v8.3M335.3 429.5h8.3M339.5 425.3v8.3M331.3 432.5h8.3M335.5 428.3v8.3M345.3 433.5h8.3M349.5 429.3v8.3M325.3 428.5h8.3M329.5 424.3v8.3M326.3 428.5h8.3M330.5 424.3v8.3M326.3 428.5h8.3M330.5 424.3v8.3M331.3 428.5h8.3M335.5 424.3v8.3M342.3 444.5h8.3M346.5 440.3v8.3M330.3 435.5h8.3M334.5 431.3v8.3M337.3 433.5h8.3M341.5 429.3v8.3M330.3 438.5h8.3M334.5 434.3v8.3M334.3 428.5h8.3M338.5 424.3v8.3M328.3 447.5h8.3M332.5 443.3v8.3M328.3 450.5h8.3M332.5 446.3v8.3M342.3 432.5h8.3M346.5 428.3v8.3M328.3 446.5h8.3M332.5 442.3v8.3M344.3 444.5h8.3M348.5 440.3v8.3M309.3 437.5h8.3M313.5 433.3v8.3M336.3 441.5h8.3M340.5 437.3v8.3M326.3 439.5h8.3M330.5 435.3v8.3M339.3 430.5h8.3M343.5 426.3v8.3M314.3 444.5h8.3M318.5 440.3v8.3M322.3 433.5h8.3M326.5 429.3v8.3M339.3 442.5h8.3M343.5 438.3v8.3M325.3 452.5h8.3M329.5 448.3v8.3M324.3 432.5h8.3M328.5 428.3v8.3M335.3 444.5h8.3M339.5 440.3v8.3M336.3 439.5h8.3M340.5 435.3v8.3M325.3 438.5h8.3M329.5 434.3v8.3M340.3 435.5h8.3M344.5 431.3v8.3M331.3 444.5h8.3M335.5 440.3v8.3M337.3 428.5h8.3M341.5 424.3v8.3M323.3 432.5h8.3M327.5 428.3v8.3M339.3 444.5h8.3M343.5 440.3v8.3M342.3 434.5h8.3M346.5 430.3v8.3M321.3 435.5h8.3M325.5 431.3v8.3M333.3 446.5h8.3M337.5 442.3v8.3M324.3 434.5h8.3M328.5 430.3v8.3M343.3 449.5h8.3M347.5 445.3v8.3M332.3 440.5h8.3M336.5 436.3v8.3M328.3 429.5h8.3M332.5 425.3v8.3M325.3 430.5h8.3M329.5 426.3v8.3M335.3 442.5h8.3M339.5 438.3v8.3M336.3 444.5h8.3M340.5 440.3v8.3M319.3 435.5h8.3M323.5 431.3v8.3M340.3 431.5h8.3M344.5 427.3v8.3M323.3 442.5h8.3M327.5 438.3v8.3M323.3 439.5h8.3M327.5 435.3v8.3M341.3 434.5h8.3M345.5 430.3v8.3M336.3 434.5h8.3M340.5 430.3v8.3M330.3 432.5h8.3M334.5 428.3v8.3M329.3 452.5h8.3M333.5 448.3v8.3M323.3 442.5h8.3M327.5 438.3v8.3M334.3 436.5h8.3M338.5 432.3v8.3M340.3 441.5h8.3M344.5 437.3v8.3M333.3 452.5h8.3M337.5 448.3v8.3M332.3 442.5h8.3M336.5 438.3v8.3M335.3 431.5h8.3M339.5 427.3v8.3M336.3 439.5h8.3M340.5 435.3v8.3M330.3 455.5h8.3M334.5 451.3v8.3M322.3 429.5h8.3M326.5 425.3v8.3M316.3 439.5h8.3M320.5 435.3v8.3M324.3 431.5h8.3M328.5 427.3v8.3M338.3 437.5h8.3M342.5 433.3v8.3M320.3 434.5h8.3M324.5 430.3v8.3M342.3 429.5h8.3M346.5 425.3v8.3M345.3 447.5h8.3M349.5 443.3v8.3M348.3 438.5h8.3M352.5 434.3v8.3M340.3 454.5h8.3M344.5 450.3v8.3M323.3 440.5h8.3M327.5 436.3v8.3M318.3 445.5h8.3M322.5 441.3v8.3M320.3 432.5h8.3M324.5 428.3v8.3M335.3 428.5h8.3M339.5 424.3v8.3M328.3 428.5h8.3M332.5 424.3v8.3M326.3 430.5h8.3M330.5 426.3v8.3M334.3 435.5h8.3M338.5 431.3v8.3M326.3 437.5h8.3M330.5 433.3v8.3M318.3 435.5h8.3M322.5 431.3v8.3M334.3 433.5h8.3M338.5 429.3v8.3M328.3 446.5h8.3M332.5 442.3v8.3M254.3 452.5h8.3M258.5 448.3v8.3M261.3 488.5h8.3M265.5 484.3v8.3M318.3 458.5h8.3M322.5 454.3v8.3M239.3 437.5h8.3M243.5 433.3v8.3M242.3 441.5h8.3M246.5 437.3v8.3M342.3 348.5h8.3M346.5 344.3v8.3M343.3 384.5h8.3M347.5 380.3v8.3M341.3 392.5h8.3M345.5 388.3v8.3M351.3 397.5h8.3M355.5 393.3v8.3M369.3 392.5h8.3M373.5 388.3v8.3M372.3 404.5h8.3M376.5 400.3v8.3M344.3 403.5h8.3M348.5 399.3v8.3M361.3 420.5h8.3M365.5 416.3v8.3M372.3 415.5h8.3M376.5 411.3v8.3M351.3 432.5h8.3M355.5 428.3v8.3M366.3 424.5h8.3M370.5 420.3v8.3M358.3 447.5h8.3M362.5 443.3v8.3M364.3 445.5h8.3M368.5 441.3v8.3M367.3 436.5h8.3M371.5 432.3v8.3M373.3 441.5h8.3M377.5 437.3v8.3M350.3 458.5h8.3M354.5 454.3v8.3M343.3 297.5h8.3M347.5 293.3v8.3M236.3 64.5h8.3M240.5 60.3v8.3M212.3 72.5h8.3M216.5 68.3v8.3M265.3 68.5h8.3M269.5 64.3v8.3M277.3 73.5h8.3M281.5 69.3v8.3M284.3 73.5h8.3M288.5 69.3v8.3M295.3 61.5h8.3M299.5 57.3v8.3M307.3 64.5h8.3M311.5 60.3v8.3M314.3 72.5h8.3M318.5 68.3v8.3M335.3 69.5h8.3M339.5 65.3v8.3M223.3 256.5h8.3M227.5 252.3v8.3M230.3 274.5h8.3M234.5 270.3v8.3M204.3 283.5h8.3M208.5 279.3v8.3M221.3 319.5h8.3M225.5 315.3v8.3M209.3 393.5h8.3M213.5 389.3v8.3M193.3 413.5h8.3M197.5 409.3v8.3M216.3 450.5h8.3M220.5 446.3v8.3" stroke="#00bfbf" stroke-width="0.7" fill="none"/>
<path d="M223.3 252.3l8.3 8.3M223.3 260.7l8.3 -8.3M230.3 270.3l8.3 8.3M230.3 278.7l8.3 -8.3M204.3 279.3l8.3 8.3M204.3 287.7l8.3 -8.3M221.3 315.3l8.3 8.3M221.3 323.7l8.3 -8.3M209.3 389.3l8.3 8.3M209.3 397.7l8.3 -8.3M193.3 409.3l8.3 8.3M193.3 417.7l8.3 -8.3M216.3 446.3l8.3 8.3M216.3 454.7l8.3 -8.3M226.3 424.3l8.3 8.3M226.3 432.7l8.3 -8.3M214.3 423.3l8.3 8.3M214.3 431.7l8.3 -8.3M207.3 422.3l8.3 8.3M207.3 430.7l8.3 -8.3M203.3 424.3l8.3 8.3M203.3 432.7l8.3 -8.3M217.3 422.3l8.3 8.3M217.3 430.7l8.3 -8.3M226.3 422.3l8.3 8.3M226.3 430.7l8.3 -8.3M230.3 424.3l8.3 8.3M230.3 432.7l8.3 -8.3M225.3 423.3l8.3 8.3M225.3 431.7l8.3 -8.3M191.3 422.3l8.3 8.3M191.3 430.7l8.3 -8.3M185.3 423.3l8.3 8.3M185.3 431.7l8.3 -8.3M184.3 423.3l8.3 8.3M184.3 431.7l8.3 -8.3M222.3 422.3l8.3 8.3M222.3 430.7l8.3 -8.3M190.3 422.3l8.3 8.3M190.3 430.7l8.3 -8.3M219.3 422.3l8.3 8.3M219.3 430.7l8.3 -8.3M223.3 421.3l8.3 8.3M223.3 429.7l8.3 -8.3M192.3 423.3l8.3 8.3M192.3 431.7l8.3 -8.3M218.3 422.3l8.3 8.3M218.3 430.7l8.3 -8.3M225.3 423.3l8.3 8.3M225.3 431.7l8.3 -8.3M192.3 424.3l8.3 8.3M192.3 432.7l8.3 -8.3M214.3 422.3l8.3 8.3M214.3 430.7l8.3 -8.3M200.3 423.3l8.3 8.3M200.3 431.7l8.3 -8.3M218.3 421.3l8.3 8.3M218.3 429.7l8.3 -8.3M185.3 423.3l8.3 8.3M185.3 431.7l8.3 -8.3M209.3 423.3l8.3 8.3M209.3 431.7l8.3 -8.3M222.3 422.3l8.3 8.3M222.3 430.7l8.3 -8.3M204.3 423.3l8.3 8.3M204.3 431.7l8.3 -8.3M193.3 422.3l8.3 8.3M193.3 430.7l8.3 -8.3M217.3 422.3l8.3 8.3M217.3 430.7l8.3 -8.3M191.3 422.3l8.3 8.3M191.3 430.7l8.3 -8.3M202.3 422.3l8.3 8.3M202.3 430.7l8.3 -8.3M232.3 422.3l8.3 8.3M232.3 430.7l8.3 -8.3M197.3 422.3l8.3 8.3M197.3 430.7l8.3 -8.3M189.3 424.3l8.3 8.3M189.3 432.7l8.3 -8.3M209.3 422.3l8.3 8.3M209.3 430.7l8.3 -8.3M203.3 422.3l8.3 8.3M203.3 430.7l8.3 -8.3M199.3 423.3l8.3 8.3M199.3 431.7l8.3 -8.3M187.3 423.3l8.3 8.3M187.3 431.7l8.3 -8.3M225.3 423.3l8.3 8.3M225.3 431.7l8.3 -8.3M209.3 422.3l8.3 8.3M209.3 430.7l8.3 -8.3M205.3 423.3l8.3 8.3M205.3 431.7l8.3 -8.3M189.3 424.3l8.3 8.3M189.3 432.7l8.3 -8.3M192.3 424.3l8.3 8.3M192.3 432.7l8.3 -8.3M190.3 424.3l8.3 8.3M190.3 432.7l8.3 -8.3M187.3 421.3l8.3 8.3M187.3 429.7l8.3 -8.3M192.3 424.3l8.3 8.3M192.3 432.7l8.3 -8.3M220.3 421.3l8.3 8.3M220.3 429.7l8.3 -8.3M196.3 422.3l8.3 8.3M196.3 430.7l8.3 -8.3M200.3 423.3l8.3 8.3M200.3 431.7l8.3 -8.3M232.3 424.3l8.3 8.3M232.3 432.7l8.3 -8.3M208.3 423.3l8.3 8.3M208.3 431.7l8.3 -8.3M201.3 422.3l8.3 8.3M201.3 430.7l8.3 -8.3M201.3 423.3l8.3 8.3M201.3 431.7l8.3 -8.3M199.3 423.3l8.3 8.3M199.3 431.7l8.3 -8.3M227.3 422.3l8.3 8.3M227.3 430.7l8.3 -8.3M215.3 421.3l8.3 8.3M215.3 429.7l8.3 -8.3M220.3 423.3l8.3 8.3M220.3 431.7l8.3 -8.3M204.3 423.3l8.3 8.3M204.3 431.7l8.3 -8.3M201.3 423.3l8.3 8.3M201.3 431.7l8.3 -8.3M195.3 424.3l8.3 8.3M195.3 432.7l8.3 -8.3M232.3 423.3l8.3 8.3M232.3 431.7l8.3 -8.3M197.3 423.3l8.3 8.3M197.3 431.7l8.3 -8.3M214.3 422.3l8.3 8.3M214.3 430.7l8.3 -8.3M216.3 422.3l8.3 8.3M216.3 430.7l8.3 -8.3M191.3 422.3l8.3 8.3M191.3 430.7l8.3 -8.3M201.3 422.3l8.3 8.3M201.3 430.7l8.3 -8.3M216.3 422.3l8.3 8.3M216.3 430.7l8.3 -8.3M195.3 423.3l8.3 8.3M195.3 431.7l8.3 -8.3M226.3 424.3l8.3 8.3M226.3 432.7l8.3 -8.3M210.3 423.3l8.3 8.3M210.3 431.7l8.3 -8.3M205.3 423.3l8.3 8.3M205.3 431.7l8.3 -8.3M190.3 422.3l8.3 8.3M190.3 430.7l8.3 -8.3M192.3 423.3l8.3 8.3M192.3 431.7l8.3 -8.3M201.3 423.3l8.3 8.3M201.3 431.7l8.3 -8.3M186.3 423.3l8.3 8.3M186.3 431.7l8.3 -8.3M220.3 421.3l8.3 8.3M220.3 429.7l8.3 -8.3M222.3 423.3l8.3 8.3M222.3 431.7l8.3 -8.3M196.3 423.3l8.3 8.3M196.3 431.7l8.3 -8.3M199.3 423.3l8.3 8.3M199.3 431.7l8.3 -8.3M233.3 423.3l8.3 8.3M233.3 431.7l8.3 -8.3M224.3 424.3l8.3 8.3M224.3 432.7l8.3 -8.3M215.3 422.3l8.3 8.3M215.3 430.7l8.3 -8.3M211.3 422.3l8.3 8.3M211.3 430.7l8.3 -8.3M228.3 423.3l8.3 8.3M228.3 431.7l8.3 -8.3M200.3 423.3l8.3 8.3M200.3 431.7l8.3 -8.3M210.3 423.3l8.3 8.3M210.3 431.7l8.3 -8.3M184.3 423.3l8.3 8.3M184.3 431.7l8.3 -8.3M188.3 423.3l8.3 8.3M188.3 431.7l8.3 -8.3M232.3 423.3l8.3 8.3M232.3 431.7l8.3 -8.3M190.3 423.3l8.3 8.3M190.3 431.7l8.3 -8.3M216.3 423.3l8.3 8.3M216.3 431.7l8.3 -8.3M213.3 423.3l8.3 8.3M213.3 431.7l8.3 -8.3M199.3 423.3l8.3 8.3M199.3 431.7l8.3 -8.3M227.3 423.3l8.3 8.3M227.3 431.7l8.3 -8.3M218.3 422.3l8.3 8.3M218.3 430.7l8.3 -8.3M221.3 422.3l8.3 8.3M221.3 430.7l8.3 -8.3M185.3 424.3l8.3 8.3M185.3 432.7l8.3 -8.3M206.3 423.3l8.3 8.3M206.3 431.7l8.3 -8.3M184.3 424.3l8.3 8.3M184.3 432.7l8.3 -8.3M223.3 422.3l8.3 8.3M223.3 430.7l8.3 -8.3M184.3 422.3l8.3 8.3M184.3 430.7l8.3 -8.3M203.3 424.3l8.3 8.3M203.3 432.7l8.3 -8.3M213.3 423.3l8.3 8.3M213.3 431.7l8.3 -8.3M224.3 422.3l8.3 8.3M224.3 430.7l8.3 -8.3M226.3 422.3l8.3 8.3M226.3 430.7l8.3 -8.3M196.3 424.3l8.3 8.3M196.3 432.7l8.3 -8.3M211.3 422.3l8.3 8.3M211.3 430.7l8.3 -8.3M210.3 423.3l8.3 8.3M210.3 431.7l8.3 -8.3M226.3 424.3l8.3 8.3M226.3 432.7l8.3 -8.3M190.3 423.3l8.3 8.3M190.3 431.7l8.3 -8.3M225.3 423.3l8.3 8.3M225.3 431.7l8.3 -8.3M206.3 423.3l8.3 8.3M206.3 431.7l8.3 -8.3M230.3 422.3l8.3 8.3M230.3 430.7l8.3 -8.3M194.3 422.3l8.3 8.3M194.3 430.7l8.3 -8.3M186.3 424.3l8.3 8.3M186.3 432.7l8.3 -8.3M219.3 423.3l8.3 8.3M219.3 431.7l8.3 -8.3M221.3 423.3l8.3 8.3M221.3 431.7l8.3 -8.3M193.3 423.3l8.3 8.3M193.3 431.7l8.3 -8.3M202.3 423.3l8.3 8.3M202.3 431.7l8.3 -8.3M201.3 423.3l8.3 8.3M201.3 431.7l8.3 -8.3M213.3 422.3l8.3 8.3M213.3 430.7l8.3 -8.3M204.3 423.3l8.3 8.3M204.3 431.7l8.3 -8.3M189.3 423.3l8.3 8.3M189.3 431.7l8.3 -8.3M222.3 422.3l8.3 8.3M222.3 430.7l8.3 -8.3M221.3 421.3l8.3 8.3M221.3 429.7l8.3 -8.3M231.3 423.3l8.3 8.3M231.3 431.7l8.3 -8.3M196.3 422.3l8.3 8.3M196.3 430.7l8.3 -8.3M185.3 423.3l8.3 8.3M185.3 431.7l8.3 -8.3M197.3 423.3l8.3 8.3M197.3 431.7l8.3 -8.3M193.3 422.3l8.3 8.3M193.3 430.7l8.3 -8.3M186.3 423.3l8.3 8.3M186.3 431.7l8.3 -8.3M214.3 422.3l8.3 8.3M214.3 430.7l8.3 -8.3M233.3 423.3l8.3 8.3M233.3 431.7l8.3 -8.3M187.3 423.3l8.3 8.3M187.3 431.7l8.3 -8.3M184.3 422.3l8.3 8.3M184.3 430.7l8.3 -8.3M224.3 422.3l8.3 8.3M224.3 430.7l8.3 -8.3M187.3 423.3l8.3 8.3M187.3 431.7l8.3 -8.3M199.3 423.3l8.3 8.3M199.3 431.7l8.3 -8.3M206.3 423.3l8.3 8.3M206.3 431.7l8.3 -8.3M218.3 423.3l8.3 8.3M218.3 431.7l8.3 -8.3M201.3 422.3l8.3 8.3M201.3 430.7l8.3 -8.3M220.3 422.3l8.3 8.3M220.3 430.7l8.3 -8.3M233.3 423.3l8.3 8.3M233.3 431.7l8.3 -8.3M194.3 421.3l8.3 8.3M194.3 429.7l8.3 -8.3M228.3 423.3l8.3 8.3M228.3 431.7l8.3 -8.3M231.3 423.3l8.3 8.3M231.3 431.7l8.3 -8.3" stroke="#0000ff" stroke-width="0.7" fill="none"/>
<g fill="#bf00bf" stroke="#000" stroke-width="0.85"><circle cx="230.5" cy="428.5" r="4.17"/><circle cx="218.5" cy="427.5" r="4.17"/><circle cx="211.5" cy="426.5" r="4.17"/><circle cx="207.5" cy="428.5" r="4.17"/><circle cx="221.5" cy="426.5" r="4.17"/><circle cx="230.5" cy="426.5" r="4.17"/><circle cx="234.5" cy="428.5" r="4.17"/><circle cx="229.5" cy="427.5" r="4.17"/><circle cx="195.5" cy="426.5" r="4.17"/><circle cx="189.5" cy="427.5" r="4.17"/><circle cx="188.5" cy="427.5" r="4.17"/><circle cx="226.5" cy="426.5" r="4.17"/><circle cx="194.5" cy="426.5" r="4.17"/><circle cx="223.5" cy="426.5" r="4.17"/><circle cx="227.5" cy="425.5" r="4.17"/><circle cx="196.5" cy="427.5" r="4.17"/><circle cx="222.5" cy="426.5" r="4.17"/><circle cx="229.5" cy="427.5" r="4.17"/><circle cx="196.5" cy="428.5" r="4.17"/><circle cx="218.5" cy="426.5" r="4.17"/><circle cx="204.5" cy="427.5" r="4.17"/><circle cx="222.5" cy="425.5" r="4.17"/><circle cx="189.5" cy="427.5" r="4.17"/><circle cx="213.5" cy="427.5" r="4.17"/><circle cx="226.5" cy="426.5" r="4.17"/><circle cx="208.5" cy="427.5" r="4.17"/><circle cx="197.5" cy="426.5" r="4.17"/><circle cx="221.5" cy="426.5" r="4.17"/><circle cx="195.5" cy="426.5" r="4.17"/><circle cx="206.5" cy="426.5" r="4.17"/><circle cx="236.5" cy="426.5" r="4.17"/><circle cx="201.5" cy="426.5" r="4.17"/><circle cx="193.5" cy="428.5" r="4.17"/><circle cx="213.5" cy="426.5" r="4.17"/><circle cx="207.5" cy="426.5" r="4.17"/><circle cx="203.5" cy="427.5" r="4.17"/><circle cx="191.5" cy="427.5" r="4.17"/><circle cx="229.5" cy="427.5" r="4.17"/><circle cx="213.5" cy="426.5" r="4.17"/><circle cx="209.5" cy="427.5" r="4.17"/><circle cx="193.5" cy="428.5" r="4.17"/><circle cx="196.5" cy="428.5" r="4.17"/><circle cx="194.5" cy="428.5" r="4.17"/><circle cx="191.5" cy="425.5" r="4.17"/><circle cx="196.5" cy="428.5" r="4.17"/><circle cx="224.5" cy="425.5" r="4.17"/><circle cx="200.5" cy="426.5" r="4.17"/><circle cx="204.5" cy="427.5" r="4.17"/><circle cx="236.5" cy="428.5" r="4.17"/><circle cx="212.5" cy="427.5" r="4.17"/><circle cx="205.5" cy="426.5" r="4.17"/><circle cx="205.5" cy="427.5" r="4.17"/><circle cx="203.5" cy="427.5" r="4.17"/><circle cx="231.5" cy="426.5" r="4.17"/><circle cx="219.5" cy="425.5" r="4.17"/><circle cx="224.5" cy="427.5" r="4.17"/><circle cx="208.5" cy="427.5" r="4.17"/><circle cx="205.5" cy="427.5" r="4.17"/><circle cx="199.5" cy="428.5" r="4.17"/><circle cx="236.5" cy="427.5" r="4.17"/><circle cx="201.5" cy="427.5" r="4.17"/><circle cx="218.5" cy="426.5" r="4.17"/><circle cx="220.5" cy="426.5" r="4.17"/><circle cx="195.5" cy="426.5" r="4.17"/><circle cx="205.5" cy="426.5" r="4.17"/><circle cx="220.5" cy="426.5" r="4.17"/><circle cx="199.5" cy="427.5" r="4.17"/><circle cx="230.5" cy="428.5" r="4.17"/><circle cx="214.5" cy="427.5" r="4.17"/><circle cx="209.5" cy="427.5" r="4.17"/><circle cx="194.5" cy="426.5" r="4.17"/><circle cx="196.5" cy="427.5" r="4.17"/><circle cx="205.5" cy="427.5" r="4.17"/><circle cx="190.5" cy="427.5" r="4.17"/><circle cx="224.5" cy="425.5" r="4.17"/><circle cx="226.5" cy="427.5" r="4.17"/><circle cx="200.5" cy="427.5" r="4.17"/><circle cx="203.5" cy="427.5" r="4.17"/><circle cx="237.5" cy="427.5" r="4.17"/><circle cx="228.5" cy="428.5" r="4.17"/><circle cx="219.5" cy="426.5" r="4.17"/><circle cx="215.5" cy="426.5" r="4.17"/><circle cx="232.5" cy="427.5" r="4.17"/><circle cx="204.5" cy="427.5" r="4.17"/><circle cx="214.5" cy="427.5" r="4.17"/><circle cx="188.5" cy="427.5" r="4.17"/><circle cx="192.5" cy="427.5" r="4.17"/><circle cx="236.5" cy="427.5" r="4.17"/><circle cx="194.5" cy="427.5" r="4.17"/><circle cx="220.5" cy="427.5" r="4.17"/><circle cx="217.5" cy="427.5" r="4.17"/><circle cx="203.5" cy="427.5" r="4.17"/><circle cx="231.5" cy="427.5" r="4.17"/><circle cx="222.5" cy="426.5" r="4.17"/><circle cx="225.5" cy="426.5" r="4.17"/><circle cx="189.5" cy="428.5" r="4.17"/><circle cx="210.5" cy="427.5" r="4.17"/><circle cx="188.5" cy="428.5" r="4.17"/><circle cx="227.5" cy="426.5" r="4.17"/><circle cx="188.5" cy="426.5" r="4.17"/><circle cx="207.5" cy="428.5" r="4.17"/><circle cx="217.5" cy="427.5" r="4.17"/><circle cx="228.5" cy="426.5" r="4.17"/><circle cx="230.5" cy="426.5" r="4.17"/><circle cx="200.5" cy="428.5" r="4.17"/><circle cx="215.5" cy="426.5" r="4.17"/><circle cx="214.5" cy="427.5" r="4.17"/><circle cx="230.5" cy="428.5" r="4.17"/><circle cx="194.5" cy="427.5" r="4.17"/><circle cx="229.5" cy="427.5" r="4.17"/><circle cx="210.5" cy="427.5" r="4.17"/><circle cx="234.5" cy="426.5" r="4.17"/><circle cx="198.5" cy="426.5" r="4.17"/><circle cx="190.5" cy="428.5" r="4.17"/><circle cx="223.5" cy="427.5" r="4.17"/><circle cx="225.5" cy="427.5" r="4.17"/><circle cx="197.5" cy="427.5" r="4.17"/><circle cx="206.5" cy="427.5" r="4.17"/><circle cx="205.5" cy="427.5" r="4.17"/><circle cx="217.5" cy="426.5" r="4.17"/><circle cx="208.5" cy="427.5" r="4.17"/><circle cx="193.5" cy="427.5" r="4.17"/><circle cx="226.5" cy="426.5" r="4.17"/><circle cx="225.5" cy="425.5" r="4.17"/><circle cx="235.5" cy="427.5" r="4.17"/><circle cx="200.5" cy="426.5" r="4.17"/><circle cx="189.5" cy="427.5" r="4.17"/><circle cx="201.5" cy="427.5" r="4.17"/><circle cx="197.5" cy="426.5" r="4.17"/><circle cx="190.5" cy="427.5" r="4.17"/><circle cx="218.5" cy="426.5" r="4.17"/><circle cx="237.5" cy="427.5" r="4.17"/><circle cx="191.5" cy="427.5" r="4.17"/><circle cx="188.5" cy="426.5" r="4.17"/><circle cx="228.5" cy="426.5" r="4.17"/><circle cx="191.5" cy="427.5" r="4.17"/><circle cx="203.5" cy="427.5" r="4.17"/><circle cx="210.5" cy="427.5" r="4.17"/><circle cx="222.5" cy="427.5" r="4.17"/><circle cx="205.5" cy="426.5" r="4.17"/><circle cx="224.5" cy="426.5" r="4.17"/><circle cx="237.5" cy="427.5" r="4.17"/><circle cx="198.5" cy="425.5" r="4.17"/><circle cx="232.5" cy="427.5" r="4.17"/><circle cx="235.5" cy="427.5" r="4.17"/></g>
<path d="M100.4 427.9H382" stroke="#00f" stroke-width="1.39" stroke-dasharray="8.33 8.33"/>
<path d="M100.4 427.45H382" stroke="#f00" stroke-width="1.39" stroke-dasharray="8.33 8.33"/>
<path d="M100.4 425.30H382" stroke="#00f" stroke-width="1.2" stroke-dasharray="4.17 6.94 1.39 6.94"/>
<path d="M100.4 429.50H382" stroke="#00f" stroke-width="1.2" stroke-dasharray="4.17 6.94 1.39 6.94"/>
</g>
<path d="M100.5 540.5v-6.1M138.5 540.5v-6.1M175.5 540.5v-6.1M213.5 540.5v-6.1M250.5 540.5v-6.1M288.5 540.5v-6.1M326.5 540.5v-6.1M363.5 540.5v-6.1M118.5 60.5v6.1M156.5 60.5v6.1M193.5 60.5v6.1M231.5 60.5v6.1M268.5 60.5v6.1M306.5 60.5v6.1M344.5 60.5v6.1M381.5 60.5v6.1M100.5 540.5h6.1M382.3 540.5h-6.1M100.5 420.5h6.1M382.3 420.5h-6.1M100.5 300.5h6.1M382.3 300.5h-6.1M100.5 180.5h6.1M382.3 180.5h-6.1M100.5 60.5h6.1M382.3 60.5h-6.1" stroke="#000" stroke-width="0.7" fill="none"/>
<rect x="100.50" y="60.50" width="281.80" height="480.00" fill="none" stroke="#000" stroke-width="1.3"/>
<path d="M84.78 554.47h10.43" stroke="#000" stroke-width="1.39"/><text x="97.08" y="559.70" font-size="17.67" letter-spacing="0.38">20</text>
<path d="M122.38 554.47h10.43" stroke="#000" stroke-width="1.39"/><text x="134.68" y="559.70" font-size="17.67" letter-spacing="0.38">18</text>
<path d="M159.98 554.47h10.43" stroke="#000" stroke-width="1.39"/><text x="172.28" y="559.70" font-size="17.67" letter-spacing="0.38">16</text>
<path d="M197.58 554.47h10.43" stroke="#000" stroke-width="1.39"/><text x="209.88" y="559.70" font-size="17.67" letter-spacing="0.38">14</text>
<path d="M235.18 554.47h10.43" stroke="#000" stroke-width="1.39"/><text x="247.48" y="559.70" font-size="17.67" letter-spacing="0.38">12</text>
<path d="M272.78 554.47h10.43" stroke="#000" stroke-width="1.39"/><text x="285.08" y="559.70" font-size="17.67" letter-spacing="0.38">10</text>
<path d="M315.68 554.47h10.43" stroke="#000" stroke-width="1.39"/><text x="327.78" y="559.70" font-size="17.67" letter-spacing="0.38">8</text>
<path d="M353.28 554.47h10.43" stroke="#000" stroke-width="1.39"/><text x="365.38" y="559.70" font-size="17.67" letter-spacing="0.38">6</text>
<text x="108.30" y="50.00" font-size="17.67" letter-spacing="0.38">14</text>
<text x="145.85" y="50.00" font-size="17.67" letter-spacing="0.38">16</text>
<text x="183.40" y="50.00" font-size="17.67" letter-spacing="0.38">18</text>
<text x="220.95" y="50.00" font-size="17.67" letter-spacing="0.38">20</text>
<text x="258.50" y="50.00" font-size="17.67" letter-spacing="0.38">22</text>
<text x="296.05" y="50.00" font-size="17.67" letter-spacing="0.38">24</text>
<text x="333.60" y="50.00" font-size="17.67" letter-spacing="0.38">26</text>
<text x="371.15" y="50.00" font-size="17.67" letter-spacing="0.38">28</text>
<text x="85.10" y="544.70" font-size="17.67" letter-spacing="0.38">0</text>
<text x="85.70" y="424.70" font-size="17.67" letter-spacing="0.38">5</text>
<text x="74.49" y="304.70" font-size="17.67" letter-spacing="0.38">10</text>
<text x="74.49" y="184.70" font-size="17.67" letter-spacing="0.38">15</text>
<text x="74.49" y="64.70" font-size="17.67" letter-spacing="0.38">20</text>
<text x="95.44" y="583.70" font-size="17.58" textLength="90.16" lengthAdjust="spacingAndGlyphs">magnitude</text><text x="190.89" y="583.70" font-size="17.58" textLength="102.81" lengthAdjust="spacingAndGlyphs">(bottom:isnt</text><text x="299.00" y="583.70" font-size="17.58">/</text><text x="309.91" y="583.70" font-size="17.58" textLength="78.65" lengthAdjust="spacingAndGlyphs">top:calib)</text>
<g transform="translate(64.0 300) rotate(-90)"><text x="-48.18" y="0.00" font-size="17.58" textLength="52.98" lengthAdjust="spacingAndGlyphs">FWHM</text><text x="10.10" y="0.00" font-size="17.58" textLength="38.08" lengthAdjust="spacingAndGlyphs">(pix)</text></g>
<text x="118.43" y="28.80" font-size="21.10" textLength="63.57" lengthAdjust="spacingAndGlyphs">FWHM</text><text x="188.36" y="28.80" font-size="21.10" textLength="22.26" lengthAdjust="spacingAndGlyphs">vs</text><text x="216.97" y="28.80" font-size="21.10" textLength="118.60" lengthAdjust="spacingAndGlyphs">magnitudes</text>
<rect x="27.9" y="70.7" width="344.6" height="179.9" fill="#fff" stroke="#000" stroke-width="1.3"/>
<text x="91.30" y="92.50" font-size="21.10" textLength="23.37" lengthAdjust="spacingAndGlyphs">all</text><text x="121.03" y="92.50" font-size="21.10" textLength="72.72" lengthAdjust="spacingAndGlyphs">sample</text>
<text x="91.30" y="121.50" font-size="21.10" textLength="72.72" lengthAdjust="spacingAndGlyphs">sample</text><text x="170.37" y="121.50" font-size="21.10" textLength="27.50" lengthAdjust="spacingAndGlyphs">for</text><text x="204.23" y="121.50" font-size="21.10" textLength="58.07" lengthAdjust="spacingAndGlyphs">rough</text><text x="268.65" y="121.50" font-size="21.10" textLength="63.57" lengthAdjust="spacingAndGlyphs">FWHM</text>
<text x="91.30" y="150.50" font-size="21.10" textLength="104.86" lengthAdjust="spacingAndGlyphs">best-effort</text><text x="202.52" y="150.50" font-size="21.10" textLength="77.76" lengthAdjust="spacingAndGlyphs">PSF-like</text><text x="286.64" y="150.50" font-size="21.10" textLength="72.72" lengthAdjust="spacingAndGlyphs">sample</text>
<text x="91.30" y="179.50" font-size="21.10" textLength="89.36" lengthAdjust="spacingAndGlyphs">resultant</text><text x="187.01" y="179.50" font-size="21.10" textLength="70.31" lengthAdjust="spacingAndGlyphs">FWHM:</text><text x="263.68" y="179.50" font-size="21.10" textLength="44.53" lengthAdjust="spacingAndGlyphs">4.69</text>
<text x="91.30" y="208.50" font-size="21.10" textLength="74.97" lengthAdjust="spacingAndGlyphs">median</text><text x="172.63" y="208.50" font-size="21.10" textLength="63.57" lengthAdjust="spacingAndGlyphs">FHWM</text><text x="242.56" y="208.50" font-size="21.10" textLength="19.28" lengthAdjust="spacingAndGlyphs">of</text><text x="268.19" y="208.50" font-size="21.10" textLength="96.38" lengthAdjust="spacingAndGlyphs">sequence</text>
<text x="91.30" y="237.50" font-size="21.10" textLength="60.41" lengthAdjust="spacingAndGlyphs">sigma</text><text x="158.07" y="237.50" font-size="21.10" textLength="58.15" lengthAdjust="spacingAndGlyphs">range</text>
<path d="M37.3 86.5h8.3M41.5 82.3v8.3M65.3 86.5h8.3M69.5 82.3v8.3" stroke="#00bfbf" stroke-width="0.7" fill="none"/>
<path d="M37.3 111.3l8.3 8.3M37.3 119.7l8.3 -8.3M65.3 111.3l8.3 8.3M65.3 119.7l8.3 -8.3" stroke="#0000ff" stroke-width="0.7" fill="none"/>
<g fill="#bf00bf" stroke="#000" stroke-width="0.7"><circle cx="41.5" cy="144.5" r="4.17"/><circle cx="69.5" cy="144.5" r="4.17"/></g>
<path d="M41.5 173.5H69.5" stroke="#00f" stroke-width="1.39" stroke-dasharray="8.33 8.33"/>
<path d="M41.5 202.5H69.5" stroke="#f00" stroke-width="1.39" stroke-dasharray="8.33 8.33"/>
<path d="M41.5 231.5H69.5" stroke="#00f" stroke-width="1.39" stroke-dasharray="4.17 6.94 1.39 6.94"/>
<g clip-path="url(#c2)">
<rect x="438.7" y="273.3" width="225.7" height="56.9" fill="#00f" stroke="#000" stroke-width="1.39"/>
<rect x="438.7" y="216.3" width="1.7" height="57" fill="#00f" stroke="#000" stroke-width="1.0"/>
<rect x="438.7" y="102.3" width="1.7" height="57" fill="#00f" stroke="#000" stroke-width="1.0"/>
<path d="M438.9 330V444" stroke="#000" stroke-width="1.6"/>
<path d="M438.2 303.4H709.7" stroke="#000" stroke-width="1.39" stroke-dasharray="8.33 8.33"/>
</g>
<path d="M438.5 540.5v-6.1M438.5 60.5v6.1M470.5 540.5v-6.1M470.5 60.5v6.1M501.5 540.5v-6.1M501.5 60.5v6.1M532.5 540.5v-6.1M532.5 60.5v6.1M563.5 540.5v-6.1M563.5 60.5v6.1M595.5 540.5v-6.1M595.5 60.5v6.1M626.5 540.5v-6.1M626.5 60.5v6.1M657.5 540.5v-6.1M657.5 60.5v6.1M689.5 540.5v-6.1M689.5 60.5v6.1M720.5 540.5v-6.1M720.5 60.5v6.1M438.7 487.5h6.1M720.5 487.5h-6.1M438.7 353.5h6.1M720.5 353.5h-6.1M438.7 220.5h6.1M720.5 220.5h-6.1M438.7 87.5h6.1M720.5 87.5h-6.1" stroke="#000" stroke-width="0.7" fill="none"/>
<rect x="438.70" y="60.50" width="281.80" height="480.00" fill="none" stroke="#000" stroke-width="1.3"/>
<text x="433.70" y="559.70" font-size="17.67" letter-spacing="0.38">0</text>
<text x="459.91" y="559.70" font-size="17.67" letter-spacing="0.38">20</text>
<text x="491.22" y="559.70" font-size="17.67" letter-spacing="0.38">40</text>
<text x="522.53" y="559.70" font-size="17.67" letter-spacing="0.38">60</text>
<text x="553.84" y="559.70" font-size="17.67" letter-spacing="0.38">80</text>
<text x="580.04" y="559.70" font-size="17.67" letter-spacing="0.38">100</text>
<text x="611.35" y="559.70" font-size="17.67" letter-spacing="0.38">120</text>
<text x="642.66" y="559.70" font-size="17.67" letter-spacing="0.38">140</text>
<text x="673.97" y="559.70" font-size="17.67" letter-spacing="0.38">160</text>
<text x="705.28" y="559.70" font-size="17.67" letter-spacing="0.38">180</text>
<text x="407.49" y="492.17" font-size="17.67" letter-spacing="0.28">4.0</text>
<text x="407.49" y="358.84" font-size="17.67" letter-spacing="0.28">4.5</text>
<text x="407.49" y="225.51" font-size="17.67" letter-spacing="0.28">5.0</text>
<text x="407.49" y="92.18" font-size="17.67" letter-spacing="0.28">5.5</text>
<text x="501.63" y="583.70" font-size="17.58" textLength="65.05" lengthAdjust="spacingAndGlyphs">number</text><text x="571.98" y="583.70" font-size="17.58" textLength="16.06" lengthAdjust="spacingAndGlyphs">of</text><text x="593.34" y="583.70" font-size="17.58" textLength="64.03" lengthAdjust="spacingAndGlyphs">sources</text>
<text x="481.52" y="52.80" font-size="21.10" textLength="101.39" lengthAdjust="spacingAndGlyphs">histogram</text><text x="589.27" y="52.80" font-size="21.10" textLength="19.28" lengthAdjust="spacingAndGlyphs">of</text><text x="614.90" y="52.80" font-size="21.10" textLength="63.57" lengthAdjust="spacingAndGlyphs">FWHM</text>
<g transform="translate(396.3 300.7) rotate(-90)"><text x="-153.23" y="0.00" font-size="17.58" textLength="52.98" lengthAdjust="spacingAndGlyphs">FWHM</text><text x="-94.95" y="0.00" font-size="17.58" textLength="16.06" lengthAdjust="spacingAndGlyphs">of</text><text x="-73.59" y="0.00" font-size="17.58" textLength="87.39" lengthAdjust="spacingAndGlyphs">best-effort</text><text x="19.10" y="0.00" font-size="17.58" textLength="64.80" lengthAdjust="spacingAndGlyphs">PSF-like</text><text x="89.20" y="0.00" font-size="17.58" textLength="64.03" lengthAdjust="spacingAndGlyphs">sources</text></g>
</svg></body></html>
